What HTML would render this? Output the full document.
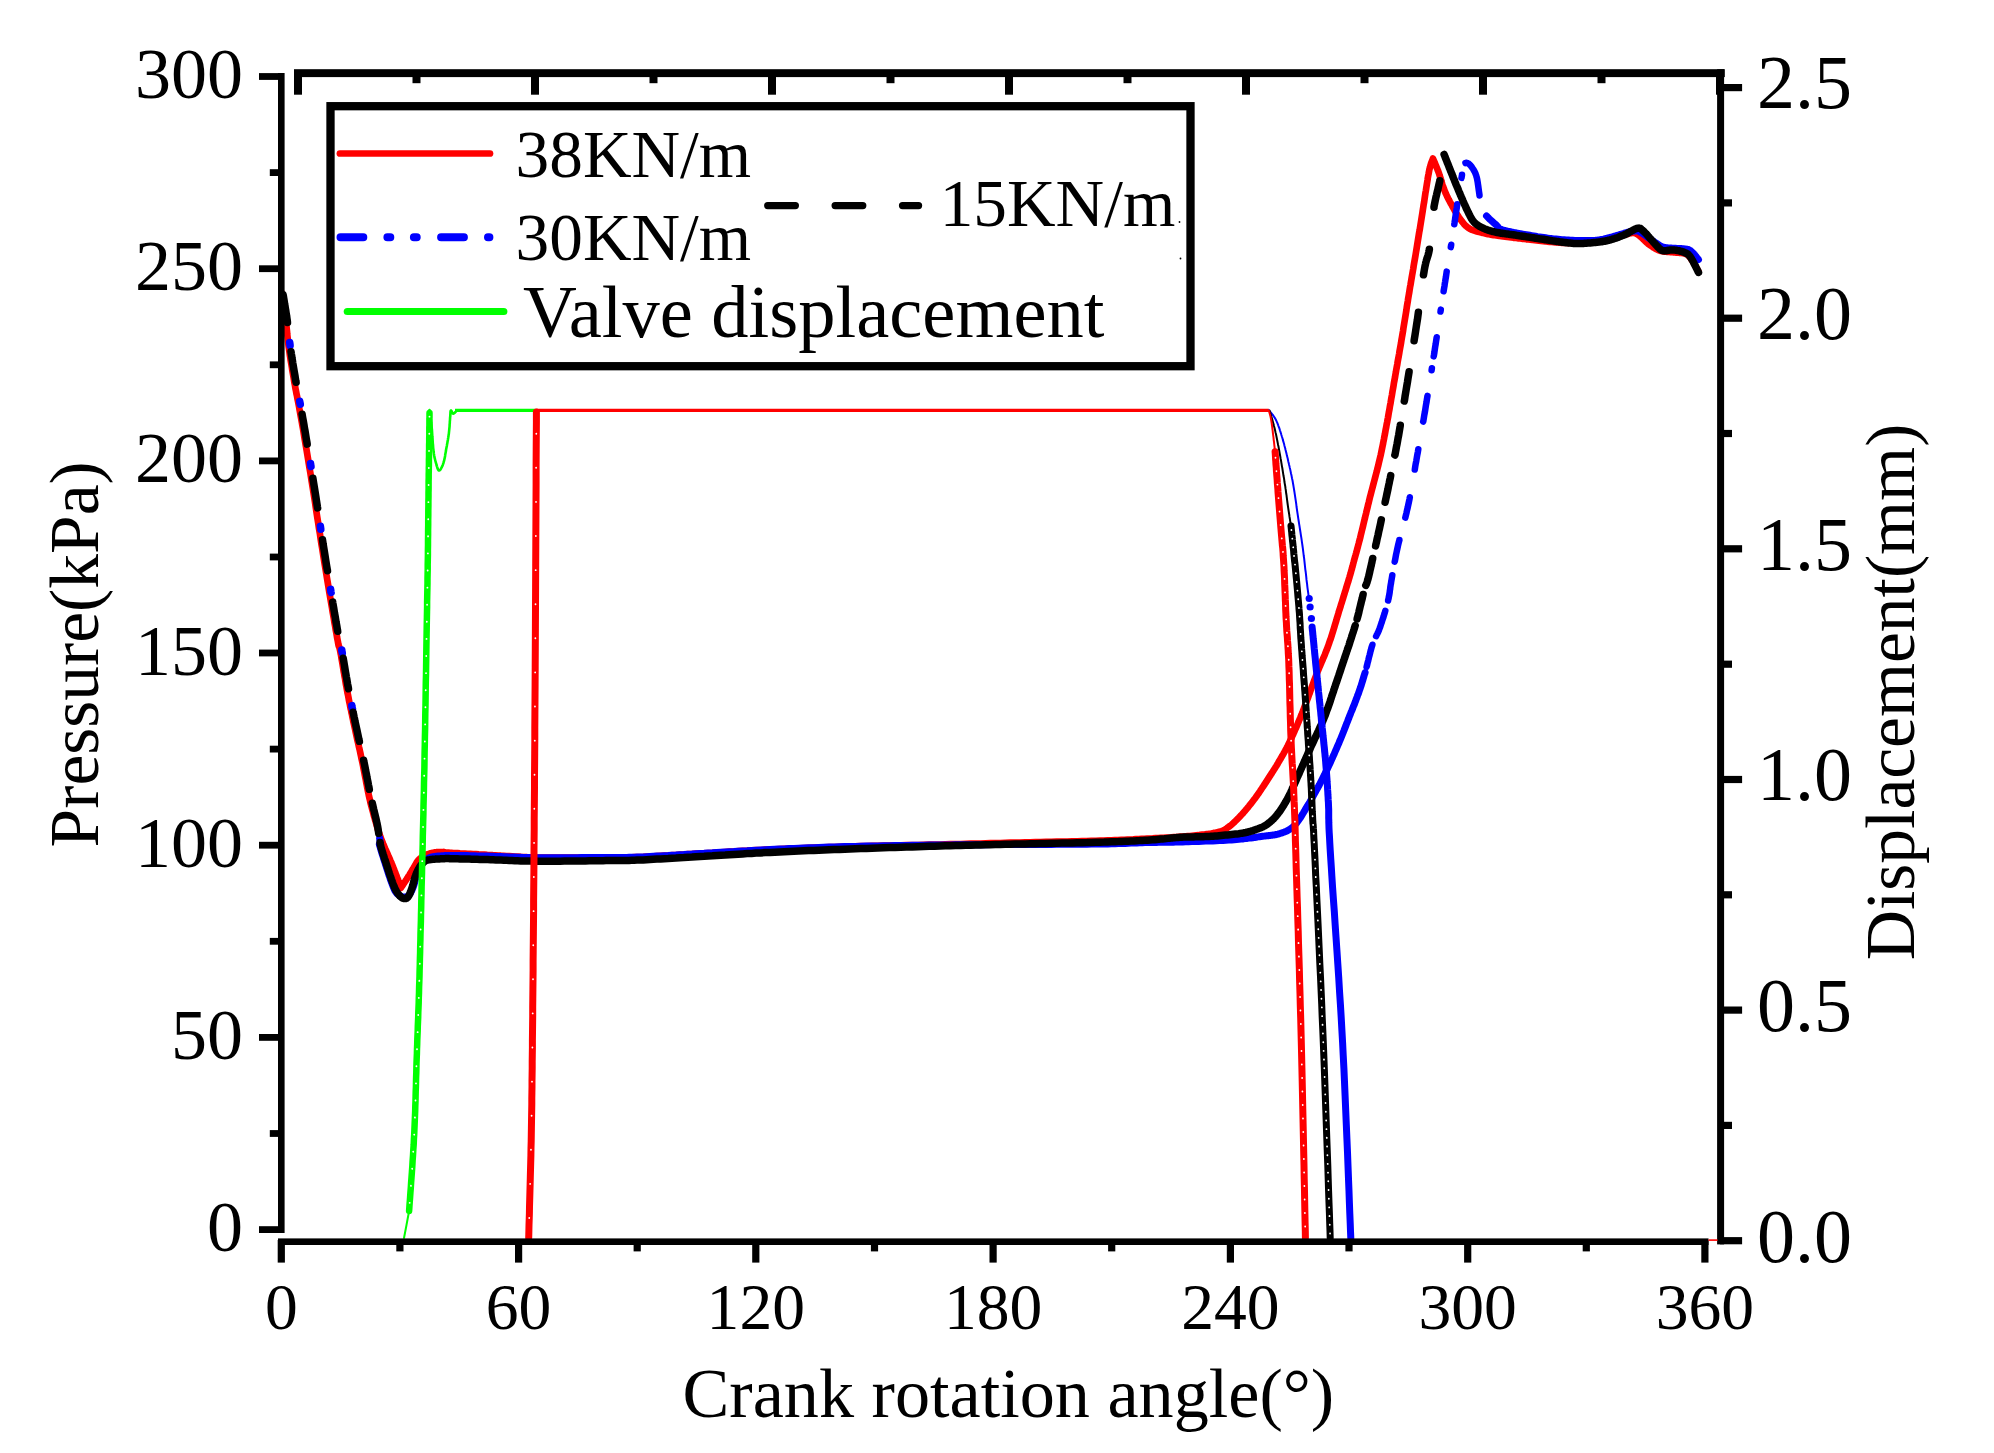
<!DOCTYPE html>
<html><head><meta charset="utf-8"><title>Pressure and valve displacement vs crank angle</title>
<style>html,body{margin:0;padding:0;background:#fff;overflow:hidden}svg{display:block}</style></head>
<body><svg width="1994" height="1453" viewBox="0 0 1994 1453">
<rect width="1994" height="1453" fill="#fff"/>
<g id="pressure">
<path d="M281.3,292.0 L281.4,292.9 L281.6,294.0 L281.8,295.2 L282.1,296.6 L282.3,298.1 L282.6,299.7 L282.9,301.4 L283.2,303.2 L283.5,305.0 L283.8,306.9 L284.1,308.8 L284.4,310.7 L284.7,312.5 L285.0,314.4 L285.3,316.2 L285.5,318.0 L285.7,319.7 L285.9,321.5 L286.1,323.2 L286.3,325.0 L286.5,326.7 L286.7,328.5 L286.9,330.3 L287.1,332.1 L287.2,333.9 L287.4,335.8 L287.6,337.6 L287.8,339.5 L288.0,341.5 L288.3,343.4 L288.5,345.4 L288.8,347.4 L289.1,349.5 L289.4,351.6 L289.7,353.7 L290.0,356.0 L290.4,358.2 L290.7,360.5 L291.1,362.8 L291.5,365.0 L291.9,367.4 L292.2,369.7 L292.6,371.9 L293.0,374.2 L293.4,376.5 L293.8,378.7 L294.1,380.9 L294.5,383.0 L294.9,385.0 L295.2,386.9 L295.5,388.8 L295.9,390.5 L296.2,392.2 L296.5,393.9 L296.9,395.5 L297.2,397.2 L297.5,399.0 L297.9,400.8 L298.3,402.7 L298.7,404.8 L299.1,407.0 L299.5,409.4 L300.0,412.0 L300.5,414.8 L301.0,417.8 L301.6,421.0 L302.2,424.3 L302.8,427.7 L303.4,431.3 L304.0,435.0 L304.6,438.8 L305.3,442.7 L306.0,446.7 L306.7,450.8 L307.4,455.0 L308.1,459.3 L308.8,463.6 L309.5,468.0 L310.3,472.5 L311.0,477.0 L311.7,481.6 L312.5,486.4 L313.3,491.4 L314.1,496.4 L314.9,501.6 L315.7,506.9 L316.5,512.2 L317.3,517.6 L318.2,523.0 L319.0,528.4 L319.9,533.8 L320.7,539.2 L321.5,544.5 L322.4,549.8 L323.2,554.9 L324.0,560.0 L324.8,565.1 L325.7,570.3 L326.6,575.7 L327.5,581.1 L328.4,586.6 L329.3,592.1 L330.2,597.5 L331.1,602.8 L332.0,608.0 L332.8,613.0 L333.7,617.8 L334.4,622.3 L335.2,626.5 L335.8,630.4 L336.5,633.9 L337.0,637.0 L337.5,639.6 L337.9,641.6 L338.2,643.3 L338.4,644.5 L338.6,645.4 L338.8,646.0 L338.9,646.4 L339.1,646.7 L339.2,646.9 L339.3,647.1 L339.4,647.4 L339.5,647.7 L339.6,648.3 L339.8,649.0 L340.0,650.1 L340.3,651.5 L340.6,653.2 L341.0,655.1 L341.3,657.1 L341.7,659.3 L342.1,661.6 L342.5,664.0 L342.9,666.4 L343.3,668.9 L343.7,671.5 L344.2,674.1 L344.6,676.6 L345.1,679.2 L345.5,681.7 L345.9,684.2 L346.4,686.6 L346.8,688.9 L347.2,691.1 L347.6,693.3 L348.1,695.5 L348.5,697.7 L348.9,699.9 L349.3,702.0 L349.8,704.1 L350.2,706.3 L350.6,708.4 L351.1,710.5 L351.5,712.7 L352.0,714.8 L352.4,717.0 L352.9,719.2 L353.3,721.4 L353.8,723.6 L354.3,725.9 L354.8,728.1 L355.3,730.4 L355.8,732.7 L356.3,735.0 L356.8,737.4 L357.3,739.7 L357.9,742.1 L358.4,744.4 L358.9,746.7 L359.5,749.1 L360.0,751.4 L360.5,753.8 L361.0,756.1 L361.5,758.5 L362.0,760.8 L362.5,763.1 L363.0,765.5 L363.4,767.9 L363.9,770.3 L364.4,772.7 L364.8,775.1 L365.3,777.5 L365.8,779.9 L366.2,782.3 L366.7,784.7 L367.1,787.0 L367.6,789.3 L368.0,791.5 L368.5,793.7 L368.9,795.8 L369.4,797.9 L369.9,799.9 L370.3,801.9 L370.8,803.9 L371.3,805.8 L371.8,807.8 L372.3,809.6 L372.8,811.5 L373.3,813.3 L373.7,815.0 L374.2,816.7 L374.7,818.4 L375.1,820.0 L375.6,821.5 L376.0,823.0 L376.4,824.4 L376.8,825.8 L377.2,827.1 L377.5,828.2 L377.8,829.2 L378.1,830.2 L378.4,831.1 L378.6,831.9 L378.9,832.7 L379.2,833.5 L379.4,834.2 L379.7,834.9 L380.0,835.7 L380.3,836.5 L380.6,837.3 L380.9,838.2 L381.3,839.2 L381.7,840.2 L382.1,841.3 L382.6,842.5 L383.1,843.8 L383.7,845.0 L384.2,846.4 L384.8,847.7 L385.4,849.1 L386.0,850.4 L386.6,851.8 L387.2,853.2 L387.8,854.5 L388.4,855.9 L389.0,857.2 L389.5,858.4 L390.0,859.6 L390.5,860.8 L391.0,861.9 L391.4,863.0 L391.9,864.1 L392.3,865.1 L392.7,866.1 L393.1,867.2 L393.5,868.1 L393.9,869.1 L394.3,870.1 L394.6,871.0 L395.0,871.9 L395.4,872.8 L395.7,873.7 L396.0,874.6 L396.4,875.4 L396.7,876.3 L397.0,877.2 L397.3,878.0 L397.7,878.9 L398.0,879.8 L398.3,880.6 L398.6,881.5 L398.9,882.3 L399.1,883.1 L399.4,883.9 L399.7,884.6 L399.9,885.3 L400.1,886.0 L400.3,886.6 L400.5,887.1 L400.7,887.6 L400.8,888.0 L401.1,887.6 L401.4,887.1 L401.8,886.5 L402.2,885.9 L402.7,885.2 L403.2,884.4 L403.7,883.6 L404.3,882.8 L404.8,882.0 L405.4,881.1 L405.9,880.2 L406.5,879.4 L407.0,878.6 L407.6,877.8 L408.0,877.0 L408.5,876.3 L408.9,875.6 L409.4,874.9 L409.8,874.2 L410.2,873.5 L410.7,872.8 L411.1,872.1 L411.5,871.4 L411.9,870.7 L412.3,870.1 L412.7,869.4 L413.0,868.8 L413.4,868.2 L413.8,867.6 L414.1,867.0 L414.4,866.5 L414.7,866.0 L415.0,865.5 L415.2,865.1 L415.5,864.7 L415.7,864.3 L415.9,864.0 L416.0,863.6 L416.2,863.3 L416.4,863.0 L416.5,862.7 L416.7,862.4 L416.9,862.2 L417.0,861.9 L417.2,861.6 L417.4,861.3 L417.6,861.1 L417.8,860.8 L418.0,860.5 L418.3,860.2 L418.5,860.0 L418.8,859.7 L419.0,859.5 L419.3,859.2 L419.5,859.0 L419.8,858.7 L420.1,858.5 L420.3,858.3 L420.6,858.0 L420.9,857.8 L421.2,857.6 L421.4,857.4 L421.7,857.2 L422.0,857.0 L422.3,856.8 L422.5,856.6 L422.8,856.5 L423.0,856.3 L423.3,856.1 L423.6,856.0 L423.8,855.8 L424.1,855.7 L424.3,855.6 L424.6,855.4 L424.9,855.3 L425.2,855.1 L425.5,855.0 L425.9,854.9 L426.2,854.7 L426.6,854.6 L427.0,854.5 L427.4,854.3 L427.9,854.2 L428.3,854.0 L428.8,853.9 L429.3,853.7 L429.8,853.6 L430.3,853.4 L430.8,853.3 L431.3,853.2 L431.9,853.0 L432.4,852.9 L432.9,852.8 L433.4,852.7 L433.9,852.6 L434.4,852.5 L434.9,852.4 L435.4,852.4 L435.8,852.3 L436.3,852.2 L436.8,852.2 L437.3,852.1 L437.8,852.1 L438.2,852.1 L438.7,852.0 L439.2,852.0 L439.7,852.0 L440.2,852.0 L440.6,852.0 L441.1,852.0 L441.6,852.0 L442.1,852.0 L442.5,852.0 L442.9,852.0 L443.1,852.0 L443.3,852.1 L443.5,852.1 L443.6,852.1 L443.8,852.2 L444.0,852.2 L444.3,852.3 L444.7,852.3 L445.2,852.4 L445.8,852.5 L446.5,852.5 L447.5,852.6 L448.6,852.7 L450.0,852.8 L451.6,852.9 L453.4,853.0 L455.4,853.1 L457.6,853.2 L459.9,853.4 L462.3,853.5 L464.9,853.6 L467.6,853.8 L470.3,853.9 L473.1,854.1 L475.9,854.2 L478.8,854.4 L481.6,854.5 L484.4,854.7 L487.2,854.9 L490.0,855.0 L492.7,855.2 L495.4,855.3 L498.2,855.5 L500.9,855.7 L503.6,855.8 L506.4,856.0 L509.2,856.2 L512.1,856.4 L515.0,856.6 L517.9,856.7 L520.9,856.9 L524.0,857.0 L527.1,857.2 L530.3,857.3 L533.6,857.4 L537.0,857.5 L540.5,857.6 L544.3,857.6 L548.2,857.7 L552.2,857.7 L556.3,857.7 L560.5,857.7 L564.7,857.7 L568.9,857.7 L573.2,857.7 L577.4,857.6 L581.5,857.6 L585.5,857.6 L589.4,857.6 L593.1,857.5 L596.7,857.5 L600.0,857.5 L603.1,857.5 L606.0,857.5 L608.6,857.5 L611.1,857.5 L613.5,857.5 L615.8,857.5 L618.0,857.5 L620.2,857.5 L622.4,857.5 L624.5,857.4 L626.8,857.4 L629.1,857.3 L631.6,857.3 L634.2,857.2 L637.0,857.1 L640.0,857.0 L643.2,856.9 L646.5,856.7 L649.9,856.5 L653.4,856.3 L656.9,856.1 L660.6,855.9 L664.3,855.7 L668.1,855.5 L672.0,855.2 L675.9,855.0 L679.8,854.7 L683.8,854.5 L687.8,854.2 L691.9,854.0 L695.9,853.7 L700.0,853.5 L704.1,853.3 L708.2,853.0 L712.4,852.8 L716.6,852.5 L720.8,852.3 L725.1,852.0 L729.4,851.7 L733.8,851.5 L738.1,851.2 L742.6,850.9 L747.1,850.7 L751.6,850.4 L756.1,850.2 L760.7,850.0 L765.3,849.7 L770.0,849.5 L774.7,849.3 L779.5,849.1 L784.2,848.9 L789.1,848.7 L793.9,848.5 L798.8,848.3 L803.8,848.1 L808.8,847.9 L813.8,847.7 L818.8,847.5 L823.9,847.3 L829.1,847.2 L834.2,847.0 L839.5,846.8 L844.7,846.7 L850.0,846.5 L855.4,846.3 L860.8,846.2 L866.4,846.1 L872.0,845.9 L877.7,845.8 L883.5,845.7 L889.2,845.6 L895.0,845.4 L900.8,845.3 L906.5,845.2 L912.3,845.1 L918.0,845.0 L923.6,844.9 L929.2,844.7 L934.6,844.6 L940.0,844.5 L945.3,844.4 L950.5,844.2 L955.6,844.1 L960.7,844.0 L965.7,843.9 L970.7,843.7 L975.7,843.6 L980.6,843.5 L985.5,843.4 L990.4,843.2 L995.3,843.1 L1000.2,843.0 L1005.1,842.9 L1010.1,842.7 L1015.0,842.6 L1020.0,842.5 L1025.1,842.4 L1030.2,842.3 L1035.4,842.2 L1040.7,842.0 L1046.0,841.9 L1051.3,841.8 L1056.6,841.7 L1061.9,841.6 L1067.1,841.5 L1072.2,841.4 L1077.2,841.3 L1082.1,841.2 L1086.9,841.1 L1091.4,840.9 L1095.8,840.8 L1100.0,840.7 L1104.0,840.6 L1107.8,840.4 L1111.4,840.3 L1114.8,840.2 L1118.2,840.1 L1121.4,839.9 L1124.5,839.8 L1127.5,839.6 L1130.4,839.5 L1133.3,839.4 L1136.1,839.2 L1138.9,839.1 L1141.7,838.9 L1144.4,838.8 L1147.2,838.6 L1150.0,838.5 L1152.8,838.4 L1155.6,838.2 L1158.3,838.1 L1161.0,837.9 L1163.6,837.8 L1166.3,837.6 L1168.8,837.5 L1171.4,837.4 L1173.9,837.2 L1176.3,837.1 L1178.7,836.9 L1181.1,836.7 L1183.4,836.6 L1185.6,836.4 L1187.8,836.2 L1190.0,836.0 L1192.1,835.8 L1194.2,835.6 L1196.3,835.4 L1198.3,835.2 L1200.3,834.9 L1202.2,834.7 L1204.1,834.5 L1206.0,834.2 L1207.7,834.0 L1209.5,833.7 L1211.1,833.5 L1212.7,833.2 L1214.2,832.9 L1215.6,832.7 L1217.0,832.4 L1218.2,832.1 L1219.3,831.8 L1220.4,831.5 L1221.3,831.3 L1222.1,831.0 L1222.8,830.7 L1223.4,830.4 L1224.0,830.1 L1224.5,829.8 L1225.0,829.5 L1225.5,829.2 L1226.0,828.9 L1226.4,828.5 L1226.9,828.2 L1227.4,827.8 L1227.9,827.4 L1228.5,827.0 L1229.1,826.6 L1229.7,826.1 L1230.3,825.7 L1230.9,825.2 L1231.5,824.7 L1232.1,824.2 L1232.6,823.7 L1233.2,823.2 L1233.8,822.6 L1234.4,822.1 L1234.9,821.5 L1235.5,821.0 L1236.1,820.4 L1236.6,819.9 L1237.2,819.3 L1237.8,818.7 L1238.4,818.1 L1239.0,817.5 L1239.5,816.9 L1240.1,816.3 L1240.7,815.7 L1241.2,815.1 L1241.8,814.5 L1242.4,813.9 L1243.0,813.2 L1243.5,812.6 L1244.1,811.9 L1244.7,811.2 L1245.3,810.6 L1245.9,809.8 L1246.5,809.1 L1247.1,808.4 L1247.7,807.7 L1248.3,806.9 L1249.0,806.1 L1249.6,805.3 L1250.2,804.5 L1250.9,803.7 L1251.5,802.9 L1252.2,802.0 L1252.8,801.2 L1253.5,800.3 L1254.1,799.4 L1254.8,798.6 L1255.5,797.7 L1256.1,796.8 L1256.8,795.9 L1257.4,795.0 L1258.0,794.1 L1258.7,793.2 L1259.3,792.2 L1260.0,791.3 L1260.6,790.3 L1261.3,789.4 L1261.9,788.4 L1262.5,787.4 L1263.2,786.5 L1263.8,785.5 L1264.5,784.5 L1265.1,783.5 L1265.8,782.5 L1266.4,781.5 L1267.1,780.5 L1267.7,779.5 L1268.3,778.5 L1269.0,777.5 L1269.6,776.5 L1270.3,775.5 L1270.9,774.5 L1271.6,773.5 L1272.2,772.5 L1272.9,771.4 L1273.6,770.4 L1274.2,769.4 L1274.9,768.3 L1275.5,767.3 L1276.2,766.2 L1276.8,765.2 L1277.5,764.1 L1278.1,763.0 L1278.7,761.9 L1279.4,760.8 L1280.0,759.7 L1280.7,758.6 L1281.3,757.5 L1282.0,756.3 L1282.6,755.2 L1283.3,754.1 L1283.9,752.9 L1284.6,751.7 L1285.2,750.6 L1285.8,749.4 L1286.5,748.2 L1287.1,746.9 L1287.8,745.7 L1288.4,744.4 L1289.0,743.1 L1289.7,741.8 L1290.3,740.4 L1291.0,739.0 L1291.7,737.6 L1292.3,736.1 L1293.0,734.7 L1293.6,733.2 L1294.3,731.8 L1294.9,730.3 L1295.5,728.9 L1296.2,727.5 L1296.8,726.0 L1297.4,724.7 L1297.9,723.3 L1298.5,722.0 L1299.0,720.7 L1299.5,719.5 L1300.0,718.4 L1300.5,717.2 L1300.9,716.1 L1301.4,715.0 L1301.8,714.0 L1302.2,712.9 L1302.7,711.8 L1303.1,710.7 L1303.5,709.5 L1304.0,708.3 L1304.4,707.1 L1304.9,705.8 L1305.5,704.4 L1306.0,703.0 L1306.6,701.5 L1307.2,699.9 L1307.8,698.3 L1308.4,696.6 L1309.0,694.8 L1309.7,693.1 L1310.3,691.2 L1311.0,689.4 L1311.6,687.5 L1312.3,685.7 L1313.0,683.8 L1313.7,681.9 L1314.4,680.0 L1315.1,678.2 L1315.8,676.3 L1316.5,674.5 L1317.2,672.7 L1317.9,670.9 L1318.7,669.1 L1319.4,667.3 L1320.2,665.6 L1320.9,663.8 L1321.7,662.0 L1322.5,660.2 L1323.2,658.4 L1324.0,656.6 L1324.8,654.7 L1325.5,652.8 L1326.3,650.9 L1327.0,649.0 L1327.8,647.0 L1328.5,645.0 L1329.2,642.9 L1329.9,640.8 L1330.7,638.7 L1331.4,636.4 L1332.1,634.2 L1332.8,631.9 L1333.5,629.7 L1334.2,627.4 L1334.9,625.1 L1335.6,622.8 L1336.3,620.5 L1336.9,618.2 L1337.6,616.0 L1338.3,613.7 L1338.9,611.5 L1339.6,609.4 L1340.3,607.3 L1340.9,605.1 L1341.6,602.9 L1342.3,600.8 L1343.0,598.6 L1343.6,596.4 L1344.3,594.3 L1344.9,592.1 L1345.6,590.1 L1346.2,588.0 L1346.8,586.0 L1347.4,584.1 L1348.0,582.3 L1348.5,580.5 L1349.0,578.8 L1349.5,577.2 L1349.9,575.7 L1350.3,574.4 L1350.7,573.1 L1351.0,571.9 L1351.3,570.8 L1351.6,569.8 L1351.9,568.8 L1352.1,567.8 L1352.4,566.9 L1352.6,566.0 L1352.9,565.1 L1353.1,564.1 L1353.3,563.2 L1353.6,562.2 L1353.9,561.1 L1354.2,560.0 L1354.5,558.9 L1354.8,557.8 L1355.1,556.7 L1355.4,555.7 L1355.7,554.6 L1356.0,553.6 L1356.3,552.5 L1356.6,551.4 L1356.9,550.3 L1357.2,549.1 L1357.6,547.8 L1357.9,546.5 L1358.3,545.0 L1358.7,543.5 L1359.1,541.8 L1359.6,540.0 L1360.1,538.1 L1360.6,536.0 L1361.1,533.8 L1361.7,531.5 L1362.3,529.0 L1362.9,526.6 L1363.5,524.0 L1364.1,521.4 L1364.8,518.7 L1365.4,516.0 L1366.1,513.3 L1366.7,510.6 L1367.4,507.9 L1368.0,505.2 L1368.7,502.6 L1369.3,500.0 L1369.9,497.4 L1370.6,494.8 L1371.3,492.2 L1372.0,489.5 L1372.7,486.9 L1373.4,484.2 L1374.1,481.5 L1374.8,478.9 L1375.5,476.2 L1376.2,473.5 L1376.9,470.9 L1377.5,468.3 L1378.2,465.7 L1378.8,463.1 L1379.4,460.5 L1380.0,458.0 L1380.6,455.5 L1381.1,453.1 L1381.6,450.7 L1382.1,448.3 L1382.6,445.9 L1383.1,443.5 L1383.5,441.2 L1384.0,438.9 L1384.4,436.5 L1384.9,434.2 L1385.3,431.9 L1385.7,429.5 L1386.2,427.2 L1386.6,424.8 L1387.1,422.4 L1387.5,420.0 L1388.0,417.6 L1388.4,415.1 L1388.8,412.7 L1389.3,410.2 L1389.7,407.7 L1390.1,405.3 L1390.6,402.8 L1391.0,400.3 L1391.4,397.8 L1391.9,395.3 L1392.3,392.8 L1392.7,390.3 L1393.2,387.7 L1393.6,385.2 L1394.0,382.6 L1394.5,380.0 L1395.0,377.4 L1395.4,374.8 L1395.9,372.2 L1396.3,369.6 L1396.8,366.9 L1397.3,364.3 L1397.7,361.6 L1398.2,358.9 L1398.7,356.3 L1399.2,353.5 L1399.6,350.8 L1400.1,348.1 L1400.6,345.4 L1401.1,342.6 L1401.5,339.8 L1402.0,337.0 L1402.5,334.2 L1403.0,331.3 L1403.4,328.3 L1403.9,325.3 L1404.4,322.3 L1404.9,319.3 L1405.4,316.2 L1405.9,313.2 L1406.4,310.1 L1406.8,307.1 L1407.3,304.1 L1407.8,301.2 L1408.2,298.3 L1408.7,295.5 L1409.2,292.7 L1409.6,290.0 L1410.0,287.4 L1410.5,284.9 L1410.9,282.4 L1411.3,280.0 L1411.7,277.6 L1412.1,275.3 L1412.5,273.0 L1412.9,270.7 L1413.3,268.5 L1413.6,266.2 L1414.0,263.9 L1414.4,261.7 L1414.8,259.4 L1415.2,257.1 L1415.6,254.7 L1416.0,252.3 L1416.4,249.9 L1416.8,247.4 L1417.2,244.9 L1417.6,242.4 L1418.0,239.9 L1418.4,237.4 L1418.8,234.9 L1419.2,232.4 L1419.7,229.9 L1420.1,227.3 L1420.5,224.8 L1420.9,222.3 L1421.3,219.8 L1421.7,217.2 L1422.1,214.7 L1422.5,212.2 L1422.9,209.6 L1423.3,207.0 L1423.7,204.3 L1424.2,201.6 L1424.6,198.8 L1425.0,196.0 L1425.4,193.2 L1425.9,190.5 L1426.3,187.8 L1426.7,185.2 L1427.1,182.7 L1427.5,180.3 L1427.8,178.0 L1428.2,175.8 L1428.6,173.9 L1428.9,172.1 L1429.2,170.5 L1429.5,169.0 L1429.9,167.7 L1430.2,166.5 L1430.5,165.4 L1430.8,164.5 L1431.0,163.6 L1431.3,162.8 L1431.6,162.1 L1431.8,161.4 L1432.0,160.9 L1432.2,160.3 L1432.4,159.8 L1432.6,159.4 L1432.8,158.9 L1432.9,158.5 L1433.1,159.0 L1433.3,159.5 L1433.6,160.1 L1433.9,160.8 L1434.2,161.6 L1434.6,162.4 L1434.9,163.2 L1435.3,164.1 L1435.7,165.0 L1436.1,166.0 L1436.5,167.0 L1436.9,168.0 L1437.3,169.0 L1437.7,170.0 L1438.1,171.1 L1438.5,172.1 L1438.9,173.2 L1439.3,174.3 L1439.6,175.4 L1440.0,176.6 L1440.4,177.8 L1440.8,179.1 L1441.2,180.3 L1441.5,181.6 L1441.9,182.9 L1442.3,184.2 L1442.7,185.4 L1443.2,186.7 L1443.6,187.9 L1444.0,189.1 L1444.5,190.3 L1444.9,191.4 L1445.4,192.5 L1445.8,193.6 L1446.3,194.6 L1446.8,195.7 L1447.3,196.8 L1447.8,197.8 L1448.3,198.8 L1448.8,199.8 L1449.4,200.8 L1449.9,201.8 L1450.4,202.7 L1450.9,203.7 L1451.5,204.6 L1452.0,205.6 L1452.5,206.5 L1453.0,207.4 L1453.5,208.3 L1454.0,209.2 L1454.5,210.1 L1455.0,210.9 L1455.5,211.8 L1456.0,212.6 L1456.5,213.5 L1457.0,214.3 L1457.5,215.1 L1458.0,215.9 L1458.5,216.7 L1459.0,217.4 L1459.5,218.1 L1460.0,218.8 L1460.5,219.5 L1461.0,220.2 L1461.5,220.8 L1462.0,221.5 L1462.5,222.1 L1462.9,222.7 L1463.4,223.2 L1463.9,223.8 L1464.3,224.3 L1464.8,224.8 L1465.3,225.3 L1465.8,225.8 L1466.3,226.2 L1466.8,226.7 L1467.3,227.1 L1467.8,227.5 L1468.4,227.9 L1469.0,228.3 L1469.6,228.7 L1470.2,229.0 L1470.8,229.3 L1471.5,229.6 L1472.1,229.9 L1472.8,230.1 L1473.4,230.4 L1474.1,230.6 L1474.8,230.8 L1475.5,231.0 L1476.2,231.2 L1477.0,231.5 L1477.8,231.7 L1478.5,231.9 L1479.4,232.1 L1480.2,232.3 L1481.0,232.5 L1481.9,232.7 L1482.7,232.9 L1483.5,233.1 L1484.3,233.3 L1485.2,233.5 L1486.0,233.7 L1486.9,233.9 L1487.9,234.1 L1488.9,234.3 L1489.9,234.5 L1491.0,234.7 L1492.2,234.9 L1493.5,235.1 L1494.8,235.3 L1496.3,235.5 L1497.9,235.7 L1499.5,236.0 L1501.3,236.2 L1503.2,236.5 L1505.1,236.7 L1507.2,237.0 L1509.2,237.2 L1511.4,237.5 L1513.5,237.8 L1515.7,238.0 L1517.8,238.3 L1520.0,238.5 L1522.2,238.8 L1524.3,239.0 L1526.4,239.3 L1528.4,239.5 L1530.4,239.7 L1532.5,240.0 L1534.6,240.2 L1536.8,240.4 L1539.0,240.7 L1541.1,240.9 L1543.3,241.1 L1545.5,241.3 L1547.6,241.6 L1549.6,241.8 L1551.7,242.0 L1553.6,242.1 L1555.5,242.3 L1557.3,242.5 L1558.9,242.6 L1560.5,242.7 L1561.9,242.8 L1563.2,242.9 L1564.4,242.9 L1565.4,243.0 L1566.4,243.0 L1567.3,243.0 L1568.2,243.1 L1569.0,243.0 L1569.8,243.0 L1570.6,243.0 L1571.4,243.0 L1572.3,242.9 L1573.2,242.9 L1574.2,242.8 L1575.3,242.8 L1576.5,242.7 L1577.8,242.6 L1579.1,242.5 L1580.5,242.4 L1582.0,242.3 L1583.4,242.2 L1584.9,242.1 L1586.5,242.0 L1588.0,241.8 L1589.6,241.7 L1591.2,241.5 L1592.8,241.4 L1594.4,241.2 L1596.0,241.0 L1597.5,240.8 L1599.1,240.5 L1600.6,240.3 L1602.1,240.0 L1603.7,239.7 L1605.3,239.4 L1606.9,239.0 L1608.6,238.6 L1610.2,238.2 L1611.8,237.8 L1613.5,237.4 L1615.0,237.0 L1616.6,236.6 L1618.1,236.2 L1619.6,235.9 L1621.0,235.5 L1622.3,235.2 L1623.5,234.9 L1624.7,234.7 L1625.8,234.5 L1626.7,234.3 L1627.6,234.0 L1628.4,233.8 L1629.1,233.6 L1629.8,233.4 L1630.4,233.2 L1631.1,233.1 L1631.6,233.0 L1632.2,232.9 L1632.8,232.8 L1633.4,232.9 L1634.0,232.9 L1634.6,233.0 L1635.3,233.2 L1636.0,233.5 L1636.8,233.9 L1637.5,234.3 L1638.3,234.8 L1639.1,235.5 L1639.9,236.1 L1640.8,236.9 L1641.6,237.6 L1642.4,238.4 L1643.2,239.2 L1644.1,240.0 L1644.9,240.8 L1645.7,241.6 L1646.5,242.4 L1647.3,243.1 L1648.0,243.7 L1648.8,244.3 L1649.5,244.8 L1650.3,245.3 L1651.0,245.8 L1651.7,246.3 L1652.4,246.8 L1653.0,247.2 L1653.7,247.7 L1654.4,248.1 L1655.1,248.5 L1655.8,248.8 L1656.4,249.2 L1657.1,249.5 L1657.8,249.9 L1658.5,250.2 L1659.3,250.4 L1660.0,250.7 L1660.8,250.9 L1661.5,251.1 L1662.3,251.3 L1663.1,251.4 L1663.9,251.6 L1664.7,251.7 L1665.5,251.7 L1666.3,251.8 L1667.1,251.9 L1667.9,251.9 L1668.7,252.0 L1669.6,252.0 L1670.4,252.1 L1671.2,252.1 L1672.0,252.2 L1672.8,252.3 L1673.6,252.4 L1674.5,252.5 L1675.3,252.5 L1676.2,252.6 L1677.0,252.6 L1677.9,252.7 L1678.8,252.7 L1679.7,252.8 L1680.5,252.9 L1681.3,252.9 L1682.1,253.0 L1682.9,253.2 L1683.7,253.3 L1684.4,253.5 L1685.1,253.7 L1685.7,253.9 L1686.3,254.2 L1686.8,254.4 L1687.3,254.7 L1687.8,255.1 L1688.2,255.4 L1688.6,255.8 L1688.9,256.2 L1689.3,256.6 L1689.6,257.0 L1690.0,257.4 L1690.3,257.9 L1690.7,258.3 L1691.0,258.8 L1691.3,259.3 L1691.7,259.9 L1692.1,260.4 L1692.5,261.0 L1692.9,261.7 L1693.4,262.4 L1693.8,263.1 L1694.3,263.9 L1694.8,264.7 L1695.2,265.6 L1695.7,266.4 L1696.1,267.2 L1696.6,268.0 L1697.0,268.8 L1697.3,269.5 L1697.7,270.1 L1698.0,270.7 L1698.3,271.2 L1698.5,271.6" fill="none" stroke="#ff0000" stroke-width="6.7" stroke-linecap="round" stroke-linejoin="round"/>
<path d="M289.7,342.5 L289.9,343.6 L290.1,345.5 L290.1,345.5" fill="none" stroke="#0000ff" stroke-width="7.5" stroke-linecap="round" stroke-linejoin="round"/>
<path d="M299.7,401.3 L300.0,402.7 L300.3,404.3" fill="none" stroke="#0000ff" stroke-width="7.5" stroke-linecap="round" stroke-linejoin="round"/>
<path d="M310.5,463.5 L310.5,463.6 L311.0,466.5" fill="none" stroke="#0000ff" stroke-width="7.5" stroke-linecap="round" stroke-linejoin="round"/>
<path d="M320.4,526.2 L320.7,528.4 L320.8,529.2" fill="none" stroke="#0000ff" stroke-width="7.5" stroke-linecap="round" stroke-linejoin="round"/>
<path d="M330.6,589.4 L331.0,592.1 L331.1,592.4" fill="none" stroke="#0000ff" stroke-width="7.5" stroke-linecap="round" stroke-linejoin="round"/>
<path d="M341.7,650.0 L341.7,650.1 L342.0,651.5 L342.3,653.0" fill="none" stroke="#0000ff" stroke-width="7.5" stroke-linecap="round" stroke-linejoin="round"/>
<path d="M351.8,705.6 L351.9,706.3 L352.3,708.4 L352.4,708.6" fill="none" stroke="#0000ff" stroke-width="7.5" stroke-linecap="round" stroke-linejoin="round"/>
<path d="M379.6,838.0 L379.6,838.4 L379.8,839.6 L380.0,840.7 L380.1,841.8 L380.2,842.7 L380.3,843.6 L380.4,844.3 L380.5,845.0 L380.5,845.5 L380.5,845.8 L380.5,845.9 L380.4,845.9 L380.2,845.7 L380.1,845.5 L379.9,845.2 L379.8,844.9 L379.6,844.6 L379.5,844.3 L379.4,844.1 L379.3,844.0 L379.3,844.0 L379.3,844.1 L379.4,844.5 L379.5,845.0 L379.7,845.7 L380.0,846.6 L380.3,847.7 L380.6,848.8 L381.0,850.1 L381.4,851.5 L381.8,852.9 L382.3,854.4 L382.8,855.9 L383.3,857.4 L383.7,859.0 L384.2,860.5 L384.7,861.9 L385.2,863.4 L385.6,864.7 L386.0,866.0 L386.4,867.2 L386.8,868.5 L387.2,869.7 L387.6,870.9 L388.0,872.1 L388.4,873.4 L388.8,874.6 L389.2,875.8 L389.6,876.9 L390.0,878.0 L390.3,879.1 L390.7,880.2 L391.1,881.2 L391.4,882.2 L391.8,883.1 L392.1,884.0 L392.4,884.8 L392.7,885.6 L393.0,886.3 L393.3,887.0 L393.5,887.6 L393.8,888.3 L394.0,888.8 L394.3,889.4 L394.5,889.9 L394.8,890.4 L395.0,890.9 L395.3,891.3 L395.6,891.8 L395.9,892.2 L396.2,892.6 L396.5,893.0 L396.8,893.4 L397.2,893.8 L397.6,894.1 L398.0,894.5 L398.4,894.8 L398.8,895.1 L399.2,895.4 L399.6,895.7 L400.0,895.9 L400.4,896.2 L400.9,896.4 L401.3,896.5 L401.7,896.7 L402.1,896.8 L402.5,896.9 L402.9,897.0 L403.3,897.1 L403.7,897.1 L404.1,897.1 L404.5,897.1 L404.9,897.0 L405.3,897.0 L405.7,896.9 L406.1,896.8 L406.5,896.6 L406.9,896.5 L407.2,896.3 L407.6,896.1 L408.0,895.9 L408.3,895.6 L408.7,895.3 L409.0,895.0 L409.3,894.7 L409.6,894.3 L410.0,893.8 L410.3,893.4 L410.6,892.9 L410.8,892.4 L411.1,891.9 L411.4,891.3 L411.7,890.8 L411.9,890.2 L412.2,889.6 L412.4,889.0 L412.7,888.4 L412.9,887.8 L413.2,887.2 L413.4,886.6 L413.6,886.0 L413.8,885.4 L414.0,884.8 L414.2,884.1 L414.4,883.5 L414.6,882.8 L414.8,882.1 L414.9,881.4 L415.1,880.8 L415.3,880.1 L415.4,879.4 L415.6,878.8 L415.8,878.1 L415.9,877.5 L416.1,876.9 L416.3,876.3 L416.5,875.7 L416.7,875.1 L416.9,874.6 L417.1,874.0 L417.3,873.5 L417.5,872.9 L417.7,872.4 L417.9,871.8 L418.1,871.3 L418.3,870.8 L418.5,870.3 L418.7,869.8 L418.9,869.4 L419.1,868.9 L419.3,868.4 L419.5,868.0 L419.7,867.6 L419.9,867.2 L420.1,866.8 L420.3,866.4 L420.6,866.0 L420.8,865.6 L421.0,865.3 L421.2,865.0 L421.4,864.6 L421.6,864.3 L421.9,864.0 L422.1,863.7 L422.3,863.4 L422.5,863.1 L422.8,862.8 L423.0,862.5 L423.2,862.2 L423.5,862.0 L423.7,861.7 L423.9,861.5 L424.1,861.2 L424.3,861.0 L424.5,860.8 L424.8,860.6 L425.0,860.4 L425.2,860.2 L425.5,860.0 L425.7,859.8 L426.0,859.6 L426.3,859.4 L426.7,859.2 L427.0,859.0 L427.3,858.8 L427.7,858.6 L428.0,858.4 L428.4,858.3 L428.7,858.1 L429.1,857.9 L429.4,857.8 L429.8,857.6 L430.2,857.4 L430.7,857.3 L431.2,857.1 L431.7,857.0 L432.3,856.9 L432.9,856.7 L433.6,856.6 L434.4,856.5 L435.2,856.4 L436.0,856.3 L436.8,856.2 L437.7,856.1 L438.6,856.0 L439.5,855.9 L440.5,855.9 L441.5,855.8 L442.6,855.7 L443.7,855.7 L444.9,855.6 L446.2,855.6 L447.6,855.6 L449.1,855.5 L450.7,855.5 L452.4,855.5 L454.2,855.5 L456.1,855.5 L458.2,855.5 L460.3,855.5 L462.6,855.6 L464.9,855.6 L467.2,855.6 L469.7,855.7 L472.2,855.7 L474.7,855.8 L477.3,855.9 L479.9,855.9 L482.6,856.0 L485.2,856.1 L487.9,856.1 L490.5,856.2 L493.1,856.3 L495.8,856.4 L498.4,856.5 L501.1,856.6 L503.7,856.7 L506.4,856.8 L509.2,856.9 L512.0,857.0 L514.8,857.1 L517.7,857.2 L520.6,857.3 L523.7,857.4 L526.8,857.5 L530.0,857.6 L533.2,857.7 L536.6,857.7 L540.1,857.7 L543.9,857.8 L547.8,857.8 L551.8,857.8 L555.9,857.8 L560.1,857.8 L564.4,857.7 L568.7,857.7 L573.0,857.7 L577.2,857.7 L581.3,857.6 L585.4,857.6 L589.3,857.6 L593.1,857.6 L596.6,857.5 L600.0,857.5 L603.1,857.5 L606.0,857.5 L608.7,857.5 L611.2,857.5 L613.6,857.5 L615.8,857.5 L618.0,857.5 L620.2,857.5 L622.4,857.4 L624.6,857.4 L626.8,857.4 L629.1,857.3 L631.6,857.3 L634.2,857.2 L637.0,857.1 L640.0,857.0 L643.2,856.9 L646.5,856.7 L649.9,856.5 L653.4,856.3 L656.9,856.1 L660.6,855.9 L664.3,855.7 L668.1,855.5 L672.0,855.2 L675.9,855.0 L679.8,854.7 L683.8,854.5 L687.8,854.2 L691.9,854.0 L695.9,853.7 L700.0,853.5 L704.1,853.3 L708.2,853.0 L712.4,852.8 L716.6,852.5 L720.8,852.3 L725.1,852.0 L729.4,851.7 L733.8,851.5 L738.1,851.2 L742.6,850.9 L747.1,850.7 L751.6,850.4 L756.1,850.2 L760.7,850.0 L765.3,849.7 L770.0,849.5 L774.7,849.3 L779.5,849.1 L784.2,848.9 L789.1,848.6 L793.9,848.4 L798.8,848.2 L803.8,848.0 L808.8,847.8 L813.8,847.7 L818.8,847.5 L823.9,847.3 L829.1,847.1 L834.2,847.0 L839.5,846.8 L844.7,846.6 L850.0,846.5 L855.4,846.4 L860.8,846.2 L866.4,846.1 L872.0,846.0 L877.7,845.9 L883.5,845.8 L889.2,845.7 L895.0,845.6 L900.8,845.5 L906.5,845.4 L912.3,845.3 L918.0,845.3 L923.6,845.2 L929.2,845.1 L934.6,845.1 L940.0,845.0 L945.3,844.9 L950.5,844.9 L955.6,844.8 L960.7,844.8 L965.7,844.8 L970.7,844.7 L975.7,844.7 L980.6,844.7 L985.5,844.7 L990.4,844.6 L995.3,844.6 L1000.2,844.6 L1005.1,844.6 L1010.1,844.6 L1015.0,844.5 L1020.0,844.5 L1025.1,844.5 L1030.2,844.4 L1035.4,844.4 L1040.7,844.4 L1046.0,844.4 L1051.3,844.4 L1056.6,844.3 L1061.9,844.3 L1067.1,844.3 L1072.2,844.3 L1077.2,844.2 L1082.1,844.2 L1086.9,844.2 L1091.4,844.1 L1095.8,844.1 L1100.0,844.0 L1104.0,843.9 L1107.8,843.9 L1111.5,843.8 L1115.1,843.7 L1118.5,843.6 L1121.8,843.5 L1125.0,843.4 L1128.1,843.2 L1131.1,843.1 L1134.0,843.0 L1136.9,842.9 L1139.6,842.8 L1142.3,842.7 L1144.9,842.6 L1147.5,842.6 L1150.0,842.5 L1152.4,842.4 L1154.6,842.4 L1156.6,842.4 L1158.4,842.3 L1160.1,842.3 L1161.8,842.3 L1163.3,842.3 L1164.9,842.3 L1166.5,842.3 L1168.0,842.3 L1169.7,842.2 L1171.5,842.2 L1173.3,842.2 L1175.4,842.1 L1177.6,842.1 L1180.0,842.0 L1182.7,841.9 L1185.6,841.8 L1188.6,841.7 L1191.9,841.6 L1195.2,841.5 L1198.7,841.4 L1202.2,841.3 L1205.7,841.1 L1209.3,841.0 L1212.8,840.9 L1216.3,840.7 L1219.6,840.6 L1222.9,840.4 L1226.0,840.2 L1228.9,840.1 L1231.6,839.9 L1234.1,839.7 L1236.6,839.5 L1238.9,839.3 L1241.1,839.1 L1243.3,838.9 L1245.3,838.6 L1247.3,838.4 L1249.2,838.1 L1251.1,837.9 L1252.9,837.7 L1254.6,837.4 L1256.3,837.2 L1257.9,836.9 L1259.5,836.7 L1261.1,836.5 L1262.6,836.3 L1264.1,836.1 L1265.4,835.9 L1266.8,835.8 L1268.0,835.7 L1269.2,835.5 L1270.3,835.4 L1271.3,835.3 L1272.4,835.2 L1273.3,835.0 L1274.3,834.9 L1275.3,834.7 L1276.2,834.5 L1277.1,834.3 L1278.1,834.1 L1279.0,833.8 L1280.0,833.5 L1281.0,833.2 L1281.9,832.9 L1282.9,832.5 L1283.8,832.2 L1284.7,831.9 L1285.5,831.5 L1286.4,831.2 L1287.3,830.8 L1288.1,830.3 L1289.0,829.8 L1289.8,829.3 L1290.7,828.7 L1291.5,828.1 L1292.4,827.4 L1293.2,826.6 L1294.1,825.8 L1295.0,824.9 L1295.8,823.9 L1296.7,822.9 L1297.5,821.8 L1298.3,820.6 L1299.2,819.4 L1300.0,818.2 L1300.9,816.9 L1301.7,815.6 L1302.5,814.2 L1303.4,812.8 L1304.3,811.3 L1305.1,809.8 L1306.0,808.3 L1307.0,806.8 L1307.9,805.2 L1308.9,803.6 L1309.9,801.9 L1310.9,800.1 L1311.9,798.3 L1312.9,796.4 L1314.0,794.5 L1315.1,792.6 L1316.1,790.7 L1317.2,788.7 L1318.3,786.7 L1319.4,784.7 L1320.4,782.7 L1321.4,780.7 L1322.4,778.8 L1323.4,776.8 L1324.4,774.9 L1325.3,773.0 L1326.3,771.1 L1327.2,769.2 L1328.1,767.3 L1329.0,765.3 L1329.9,763.4 L1330.8,761.5 L1331.6,759.6 L1332.5,757.7 L1333.3,755.8 L1334.2,753.9 L1335.0,752.0 L1335.8,750.1 L1336.6,748.3 L1337.4,746.4 L1338.2,744.6 L1339.0,742.8 L1339.7,741.0 L1340.5,739.2 L1341.2,737.5 L1341.9,735.7 L1342.6,734.0 L1343.3,732.2 L1344.0,730.5 L1344.6,728.8 L1345.3,727.1 L1346.0,725.4 L1346.6,723.7 L1347.3,722.0 L1347.9,720.4 L1348.6,718.7 L1349.2,717.1 L1349.8,715.5 L1350.5,713.9 L1351.1,712.2 L1351.8,710.6 L1352.4,709.1 L1353.0,707.5 L1353.6,705.9 L1354.3,704.4 L1354.9,702.8 L1355.5,701.3 L1356.0,699.8 L1356.6,698.2 L1357.2,696.7 L1357.7,695.2 L1358.3,693.8 L1358.8,692.3 L1359.3,690.9 L1359.8,689.4 L1360.3,688.1 L1360.7,686.7 L1361.2,685.4 L1361.6,684.0 L1362.0,682.7 L1362.4,681.4 L1362.8,680.1 L1363.2,678.7 L1363.6,677.4 L1364.0,676.0 L1364.4,674.6 L1364.9,673.2 L1365.1,672.5" fill="none" stroke="#0000ff" stroke-width="7" stroke-linecap="round" stroke-linejoin="round"/>
<path d="M1366.6,666.9 L1367.0,665.5 L1367.4,663.8 L1367.8,662.1 L1368.3,660.3 L1368.7,658.6 L1369.1,656.8 L1369.6,655.1 L1370.0,653.4 L1370.4,651.7 L1370.9,650.0 L1371.3,648.4 L1371.7,646.9 L1372.2,645.5 L1372.4,644.7" fill="none" stroke="#0000ff" stroke-width="6.5" stroke-linecap="round" stroke-linejoin="round"/>
<path d="M1376.1,636.2 L1376.1,636.2 L1376.5,635.4 L1376.9,634.5 L1377.4,633.6 L1377.8,632.7 L1378.3,631.7 L1378.8,630.6 L1379.2,629.5 L1379.7,628.2 L1380.2,626.8 L1380.7,625.3 L1381.2,623.8 L1381.8,622.1 L1382.3,620.4 L1382.9,618.7 L1383.5,616.9 L1384.0,615.1 L1384.6,613.3 L1385.1,611.5 L1385.3,610.9" fill="none" stroke="#0000ff" stroke-width="6.5" stroke-linecap="round" stroke-linejoin="round"/>
<path d="M1388.1,600.5 L1388.2,599.8 L1388.6,598.4 L1388.8,597.1 L1389.1,595.8 L1389.3,594.6 L1389.5,593.4 L1389.7,592.2 L1389.8,591.0 L1390.0,589.8 L1390.2,588.6 L1390.3,587.3 L1390.5,586.0 L1390.7,584.6 L1391.0,583.2 L1391.2,581.6 L1391.5,580.0 L1391.8,578.3 L1392.1,576.5 L1392.3,575.2" fill="none" stroke="#0000ff" stroke-width="6.5" stroke-linecap="round" stroke-linejoin="round"/>
<path d="M1394.7,561.6 L1394.9,560.9 L1395.3,558.8 L1395.7,556.6 L1396.1,554.4 L1396.6,552.1 L1397.1,549.8 L1397.6,547.5 L1398.1,545.1 L1398.7,542.7 L1399.4,540.2 L1399.4,539.9" fill="none" stroke="#0000ff" stroke-width="6.5" stroke-linecap="round" stroke-linejoin="round"/>
<path d="M1405.3,517.7 L1405.7,516.0 L1406.4,513.2 L1407.0,510.4 L1407.7,507.6 L1408.3,504.8 L1408.9,502.0 L1409.5,499.1 L1409.8,497.3" fill="none" stroke="#0000ff" stroke-width="6.5" stroke-linecap="round" stroke-linejoin="round"/>
<path d="M1414.8,469.6 L1415.2,466.8 L1415.7,463.8 L1416.3,460.8 L1416.8,457.8 L1417.3,454.8 L1417.9,451.8 L1418.3,449.2" fill="none" stroke="#0000ff" stroke-width="6.5" stroke-linecap="round" stroke-linejoin="round"/>
<path d="M1423.2,421.5 L1423.3,421.3 L1423.8,418.2 L1424.3,415.1 L1424.9,411.9 L1425.4,408.7 L1425.9,405.5 L1426.5,402.2 L1427.0,398.8 L1427.5,395.9" fill="none" stroke="#0000ff" stroke-width="6.5" stroke-linecap="round" stroke-linejoin="round"/>
<path d="M1431.6,370.3 L1431.9,368.3" fill="none" stroke="#0000ff" stroke-width="6.5" stroke-linecap="round" stroke-linejoin="round"/>
<path d="M1433.7,356.4 L1433.9,355.4 L1434.4,352.4 L1434.8,349.5 L1435.2,346.7 L1435.7,343.9 L1436.1,341.1 L1436.5,338.4 L1436.7,337.2" fill="none" stroke="#0000ff" stroke-width="6.5" stroke-linecap="round" stroke-linejoin="round"/>
<path d="M1440.5,311.6 L1440.7,310.2 L1440.8,309.6" fill="none" stroke="#0000ff" stroke-width="6.5" stroke-linecap="round" stroke-linejoin="round"/>
<path d="M1443.6,291.3 L1443.7,290.6 L1444.1,288.3 L1444.5,286.0 L1444.8,283.7 L1445.2,281.5 L1445.5,279.3 L1445.9,277.1 L1446.2,275.0 L1446.5,272.9 L1446.7,271.6" fill="none" stroke="#0000ff" stroke-width="6.5" stroke-linecap="round" stroke-linejoin="round"/>
<path d="M1450.8,247.1 L1451.0,245.9 L1451.2,244.7" fill="none" stroke="#0000ff" stroke-width="6.5" stroke-linecap="round" stroke-linejoin="round"/>
<path d="M1454.3,224.3 L1454.5,223.0 L1454.7,221.4 L1455.0,219.8 L1455.2,218.1 L1455.5,216.4 L1455.7,214.7 L1456.0,212.9 L1456.2,211.2 L1456.5,209.4 L1456.8,207.7 L1457.0,206.0 L1457.3,204.3 L1457.3,204.2" fill="none" stroke="#0000ff" stroke-width="6.5" stroke-linecap="round" stroke-linejoin="round"/>
<path d="M1461.5,177.9 L1461.6,177.3 L1461.8,176.1 L1462.0,175.0 L1462.0,174.7" fill="none" stroke="#0000ff" stroke-width="6.5" stroke-linecap="round" stroke-linejoin="round"/>
<path d="M1465.5,163.0 L1465.7,162.9 L1465.9,162.8 L1466.2,162.8 L1466.4,162.8 L1466.7,162.8 L1466.9,162.9 L1467.2,163.0 L1467.5,163.1 L1467.7,163.2 L1468.0,163.3 L1468.3,163.5 L1468.6,163.6 L1468.9,163.9 L1469.2,164.1 L1469.5,164.4 L1469.8,164.7 L1470.2,165.1 L1470.5,165.4 L1470.8,165.8 L1471.1,166.2 L1471.5,166.6 L1471.8,167.1 L1472.1,167.5 L1472.4,168.0 L1472.7,168.4 L1473.0,168.9 L1473.3,169.4 L1473.6,169.8 L1473.8,170.3 L1474.1,170.8 L1474.4,171.2 L1474.6,171.7 L1474.9,172.2 L1475.1,172.7 L1475.4,173.3 L1475.6,173.9 L1475.8,174.5 L1476.1,175.2 L1476.3,175.9 L1476.5,176.7 L1476.8,177.6 L1477.0,178.5 L1477.2,179.5 L1477.4,180.6 L1477.6,181.8 L1477.8,183.1 L1478.0,184.4 L1478.2,185.8 L1478.4,187.3 L1478.6,188.7 L1478.8,190.2 L1479.0,191.6 L1479.2,193.0 L1479.4,194.4 L1479.5,195.4" fill="none" stroke="#0000ff" stroke-width="6.5" stroke-linecap="round" stroke-linejoin="round"/>
<path d="M1486.5,215.9 L1486.9,216.3 L1487.7,217.1 L1488.5,218.0 L1489.3,218.8 L1490.2,219.6 L1491.0,220.4 L1491.9,221.2 L1492.7,221.9 L1493.5,222.6 L1494.3,223.3 L1495.0,223.9 L1495.7,224.5 L1496.3,225.1 L1496.8,225.6 L1497.2,226.0 L1497.6,226.4 L1497.9,226.8 L1498.1,227.1 L1498.3,227.4 L1498.5,227.7 L1498.7,227.9 L1498.9,228.2 L1499.2,228.4 L1499.5,228.6 L1499.9,228.9 L1500.4,229.1 L1501.0,229.3 L1501.8,229.6 L1502.7,229.9 L1503.7,230.2 L1504.9,230.5 L1506.2,230.8 L1507.5,231.2 L1509.0,231.5 L1510.5,231.8 L1512.1,232.1 L1513.8,232.5 L1515.5,232.8 L1517.2,233.1 L1519.0,233.4 L1520.8,233.8 L1522.6,234.1 L1524.4,234.4 L1526.2,234.7 L1528.0,235.0 L1529.8,235.3 L1531.7,235.6 L1533.6,235.9 L1535.5,236.2 L1537.5,236.6 L1539.5,236.9 L1541.5,237.2 L1543.6,237.5 L1545.6,237.8 L1547.7,238.1 L1549.8,238.4 L1551.8,238.6 L1553.9,238.9 L1556.0,239.1 L1558.0,239.3 L1560.0,239.5 L1562.0,239.7 L1564.1,239.8 L1566.2,240.0 L1568.4,240.1 L1570.5,240.2 L1572.7,240.3 L1574.9,240.4 L1577.0,240.4 L1579.1,240.5 L1581.2,240.5 L1583.2,240.6 L1585.1,240.6 L1587.0,240.6 L1588.8,240.6 L1590.4,240.5 L1592.0,240.5 L1593.4,240.4 L1594.8,240.4 L1596.0,240.3 L1597.1,240.2 L1598.1,240.1 L1599.1,239.9 L1600.1,239.8 L1600.9,239.6 L1601.8,239.5 L1602.6,239.3 L1603.5,239.1 L1604.3,238.9 L1605.2,238.7 L1606.1,238.5 L1607.0,238.2 L1608.0,238.0 L1609.0,237.8 L1610.1,237.5 L1611.2,237.2 L1612.4,236.9 L1613.5,236.5 L1614.7,236.2 L1615.8,235.8 L1616.9,235.5 L1618.1,235.1 L1619.2,234.8 L1620.2,234.4 L1621.3,234.1 L1622.3,233.8 L1623.3,233.5 L1624.2,233.2 L1625.0,233.0 L1625.8,232.8 L1626.5,232.6 L1627.2,232.4 L1627.9,232.2 L1628.5,232.1 L1629.1,231.9 L1629.7,231.8 L1630.2,231.6 L1630.7,231.5 L1631.2,231.4 L1631.7,231.3 L1632.1,231.2 L1632.6,231.1 L1633.1,231.1 L1633.5,231.0 L1634.0,231.0 L1634.4,231.0 L1634.8,230.9 L1635.2,230.9 L1635.5,230.8 L1635.8,230.8 L1636.0,230.7 L1636.3,230.7 L1636.6,230.7 L1636.8,230.7 L1637.1,230.8 L1637.5,230.8 L1637.9,231.0 L1638.3,231.2 L1638.8,231.4 L1639.4,231.7 L1640.0,232.0 L1640.7,232.4 L1641.6,232.9 L1642.5,233.5 L1643.5,234.2 L1644.5,234.9 L1645.6,235.7 L1646.7,236.5 L1647.8,237.3 L1648.9,238.1 L1650.1,238.9 L1651.2,239.7 L1652.3,240.5 L1653.3,241.2 L1654.3,241.9 L1655.2,242.5 L1656.0,243.0 L1656.7,243.5 L1657.4,243.9 L1658.0,244.3 L1658.5,244.7 L1658.9,245.0 L1659.4,245.3 L1659.8,245.6 L1660.2,245.8 L1660.6,246.1 L1661.1,246.3 L1661.6,246.5 L1662.1,246.7 L1662.7,246.9 L1663.4,247.1 L1664.1,247.3 L1665.0,247.5 L1666.0,247.7 L1667.1,247.8 L1668.4,247.9 L1669.7,248.1 L1671.1,248.1 L1672.5,248.2 L1674.0,248.3 L1675.5,248.3 L1677.0,248.4 L1678.5,248.5 L1679.9,248.5 L1681.3,248.6 L1682.5,248.7 L1683.7,248.8 L1684.8,248.9 L1685.7,249.0 L1686.5,249.1 L1687.2,249.3 L1687.8,249.4 L1688.3,249.5 L1688.7,249.7 L1689.1,249.8 L1689.4,250.0 L1689.7,250.1 L1690.0,250.3 L1690.3,250.5 L1690.5,250.7 L1690.7,250.9 L1691.0,251.1 L1691.3,251.4 L1691.6,251.7 L1692.0,252.0 L1692.4,252.4 L1692.8,252.8 L1693.3,253.2 L1693.8,253.8 L1694.2,254.3 L1694.7,254.8 L1695.2,255.4 L1695.6,256.0 L1696.1,256.6 L1696.5,257.1 L1696.9,257.6 L1697.3,258.1 L1697.7,258.6 L1698.0,259.0 L1698.3,259.3 L1698.5,259.6" fill="none" stroke="#0000ff" stroke-width="7" stroke-linecap="round" stroke-linejoin="round"/>
<path d="M283.1,294.7 L283.4,296.2 L283.7,298.0 L284.0,299.8 L284.3,301.8 L284.6,303.8 L285.0,305.9 L285.3,308.0 L285.7,310.1 L286.0,312.2 L286.3,314.2 L286.7,316.3 L286.9,318.2 L287.2,320.0 L287.4,321.7 L287.5,322.5" fill="none" stroke="#000000" stroke-width="7.5" stroke-linecap="round" stroke-linejoin="round"/>
<path d="M291.0,351.7 L291.3,353.6 L291.7,355.8 L292.0,358.0 L292.4,360.3 L292.7,362.6 L293.1,364.9 L293.5,367.2 L293.9,369.6 L294.3,371.9 L294.7,374.2 L295.1,376.4 L295.4,378.7 L295.8,380.9 L296.1,382.3" fill="none" stroke="#000000" stroke-width="7.5" stroke-linecap="round" stroke-linejoin="round"/>
<path d="M302.1,414.2 L302.2,414.8 L302.7,417.8 L303.3,421.0 L303.9,424.3 L304.4,427.7 L305.1,431.3 L305.7,435.0 L306.3,438.8 L307.0,442.7 L307.2,444.1" fill="none" stroke="#000000" stroke-width="7.5" stroke-linecap="round" stroke-linejoin="round"/>
<path d="M312.9,478.2 L313.4,481.6 L314.2,486.4 L315.0,491.4 L315.8,496.4 L316.6,501.6 L317.4,506.9 L317.6,507.9" fill="none" stroke="#000000" stroke-width="7.5" stroke-linecap="round" stroke-linejoin="round"/>
<path d="M322.5,539.7 L323.2,544.5 L324.1,549.8 L324.9,554.9 L325.7,560.0 L326.5,565.1 L327.4,570.3 L327.5,570.8" fill="none" stroke="#000000" stroke-width="7.5" stroke-linecap="round" stroke-linejoin="round"/>
<path d="M332.7,602.1 L332.8,602.8 L333.7,608.0 L334.5,613.0 L335.4,617.8 L336.1,622.3 L336.9,626.5 L337.5,630.4 L337.7,631.3" fill="none" stroke="#000000" stroke-width="7.5" stroke-linecap="round" stroke-linejoin="round"/>
<path d="M343.2,658.3 L343.4,659.3 L343.8,661.6 L344.2,664.0 L344.6,666.4 L345.0,668.9 L345.4,671.5 L345.9,674.1 L346.3,676.6 L346.8,679.2 L347.2,681.7 L347.6,684.2 L348.1,686.6 L348.5,688.7" fill="none" stroke="#000000" stroke-width="7.5" stroke-linecap="round" stroke-linejoin="round"/>
<path d="M353.1,712.2 L353.2,712.7 L353.7,714.8 L354.1,717.0 L354.6,719.2 L355.0,721.4 L355.5,723.6 L356.0,725.9 L356.5,728.1 L357.0,730.4 L357.5,732.7 L358.0,735.0 L358.5,737.4 L359.0,739.7 L359.4,741.3" fill="none" stroke="#000000" stroke-width="7.5" stroke-linecap="round" stroke-linejoin="round"/>
<path d="M363.6,760.2 L363.7,760.8 L364.2,763.1 L364.7,765.5 L365.2,767.9 L365.6,770.3 L366.1,772.7 L366.6,775.1 L367.0,777.5 L367.5,779.9 L368.0,782.3 L368.4,784.7 L368.9,787.0 L369.3,789.3 L369.3,789.3" fill="none" stroke="#000000" stroke-width="7.5" stroke-linecap="round" stroke-linejoin="round"/>
<path d="M372.3,803.2 L372.4,803.8 L372.9,805.7 L373.3,807.6 L373.7,809.4 L374.2,811.2 L374.6,813.0 L375.0,814.7 L375.4,816.4 L375.8,818.0 L376.2,819.7 L376.5,821.2 L376.9,822.8 L377.2,824.3 L377.5,825.8 L377.8,827.2 L378.0,828.6 L378.2,829.9 L378.4,831.2 L378.6,832.4 L378.7,833.3" fill="none" stroke="#000000" stroke-width="7.5" stroke-linecap="round" stroke-linejoin="round"/>
<path d="M380.0,842.5 L380.0,842.6 L380.2,843.8 L380.5,845.0 L380.8,846.3 L381.1,847.6 L381.5,848.9 L381.9,850.2 L382.3,851.5 L382.7,852.9 L383.1,854.2 L383.6,855.6 L384.0,856.9 L384.4,858.3 L384.9,859.6 L385.3,860.9 L385.8,862.2 L386.2,863.5 L386.6,864.8 L387.0,866.0 L387.4,867.2 L387.8,868.5 L388.2,869.7 L388.6,870.9 L389.0,872.1 L389.4,873.4 L389.8,874.6 L390.2,875.8 L390.6,876.9 L391.0,878.0 L391.3,879.1 L391.7,880.2 L392.1,881.2 L392.4,882.2 L392.8,883.1 L393.1,884.0 L393.4,884.8 L393.7,885.6 L394.0,886.3 L394.3,887.0 L394.6,887.6 L394.8,888.2 L395.1,888.8 L395.3,889.3 L395.6,889.8 L395.9,890.3 L396.1,890.8 L396.4,891.2 L396.6,891.7 L396.9,892.1 L397.2,892.6 L397.5,893.0 L397.8,893.4 L398.1,893.9 L398.5,894.3 L398.8,894.7 L399.1,895.1 L399.5,895.5 L399.8,895.9 L400.2,896.2 L400.5,896.6 L400.9,896.9 L401.2,897.2 L401.5,897.4 L401.9,897.7 L402.2,897.9 L402.6,898.1 L402.9,898.2 L403.2,898.3 L403.6,898.4 L403.9,898.5 L404.2,898.6 L404.5,898.6 L404.9,898.6 L405.2,898.6 L405.5,898.6 L405.8,898.5 L406.2,898.4 L406.5,898.3 L406.8,898.1 L407.1,897.9 L407.4,897.6 L407.7,897.3 L408.0,897.0 L408.3,896.6 L408.6,896.1 L408.9,895.6 L409.2,895.0 L409.5,894.4 L409.8,893.8 L410.1,893.1 L410.3,892.4 L410.6,891.6 L410.9,890.9 L411.2,890.2 L411.4,889.4 L411.7,888.7 L411.9,888.0 L412.2,887.3 L412.4,886.6 L412.6,885.9 L412.8,885.3 L413.0,884.6 L413.2,883.9 L413.4,883.3 L413.6,882.6 L413.8,881.9 L413.9,881.3 L414.1,880.6 L414.3,879.9 L414.4,879.3 L414.6,878.7 L414.8,878.0 L414.9,877.4 L415.1,876.9 L415.3,876.3 L415.5,875.8 L415.7,875.2 L415.9,874.7 L416.1,874.2 L416.3,873.7 L416.5,873.2 L416.7,872.8 L416.9,872.3 L417.1,871.9 L417.3,871.4 L417.5,871.0 L417.7,870.6 L417.9,870.2 L418.1,869.8 L418.3,869.4 L418.5,869.0 L418.7,868.6 L418.9,868.3 L419.1,867.9 L419.4,867.5 L419.6,867.2 L419.8,866.9 L420.0,866.6 L420.2,866.2 L420.4,865.9 L420.7,865.6 L420.9,865.4 L421.1,865.1 L421.3,864.8 L421.6,864.5 L421.8,864.3 L422.0,864.0 L422.2,863.7 L422.4,863.5 L422.6,863.3 L422.9,863.0 L423.1,862.8 L423.3,862.6 L423.5,862.4 L423.7,862.2 L423.9,862.0 L424.1,861.8 L424.3,861.6 L424.6,861.4 L424.8,861.3 L425.1,861.1 L425.3,860.9 L425.6,860.8 L425.9,860.7 L426.2,860.5 L426.4,860.4 L426.7,860.3 L427.0,860.2 L427.3,860.1 L427.6,860.1 L427.9,860.0 L428.2,859.9 L428.5,859.9 L428.9,859.8 L429.2,859.7 L429.6,859.7 L430.1,859.6 L430.5,859.6 L431.0,859.5 L431.5,859.4 L432.1,859.4 L432.6,859.3 L433.3,859.3 L433.9,859.2 L434.5,859.2 L435.2,859.1 L435.9,859.1 L436.6,859.0 L437.3,859.0 L438.0,859.0 L438.7,858.9 L439.4,858.9 L440.1,858.9 L440.8,858.8 L441.5,858.8 L442.1,858.8 L442.7,858.8 L443.1,858.7 L443.6,858.7 L444.0,858.7 L444.4,858.7 L444.8,858.7 L445.2,858.6 L445.7,858.6 L446.3,858.6 L447.0,858.6 L447.8,858.6 L448.7,858.6 L449.7,858.7 L451.0,858.7 L452.4,858.7 L454.0,858.7 L455.8,858.8 L457.7,858.8 L459.8,858.9 L462.0,858.9 L464.3,859.0 L466.8,859.0 L469.2,859.1 L471.8,859.2 L474.4,859.2 L477.1,859.3 L479.8,859.4 L482.5,859.5 L485.2,859.5 L487.8,859.6 L490.5,859.7 L493.1,859.8 L495.8,859.9 L498.4,860.0 L501.1,860.1 L503.7,860.2 L506.4,860.3 L509.2,860.4 L512.0,860.5 L514.8,860.7 L517.7,860.8 L520.6,860.9 L523.7,861.0 L526.8,861.0 L530.0,861.1 L533.2,861.2 L536.6,861.2 L540.1,861.2 L543.9,861.2 L547.8,861.2 L551.8,861.2 L555.9,861.2 L560.1,861.2 L564.4,861.1 L568.7,861.1 L573.0,861.0 L577.2,861.0 L581.3,860.9 L585.4,860.9 L589.3,860.8 L593.1,860.8 L596.6,860.7 L600.0,860.7 L603.1,860.7 L606.0,860.6 L608.7,860.6 L611.2,860.6 L613.6,860.6 L615.8,860.6 L618.0,860.6 L620.2,860.5 L622.4,860.5 L624.6,860.5 L626.8,860.4 L629.1,860.4 L631.6,860.3 L634.2,860.2 L637.0,860.1 L640.0,860.0 L643.2,859.9 L646.5,859.7 L649.9,859.5 L653.4,859.3 L656.9,859.1 L660.6,858.9 L664.3,858.7 L668.1,858.5 L672.0,858.2 L675.9,858.0 L679.8,857.7 L683.8,857.5 L687.8,857.2 L691.9,857.0 L695.9,856.7 L700.0,856.5 L704.1,856.3 L708.2,856.0 L712.4,855.8 L716.6,855.5 L720.8,855.2 L725.1,855.0 L729.4,854.7 L733.8,854.4 L738.1,854.2 L742.6,853.9 L747.1,853.6 L751.6,853.4 L756.1,853.1 L760.7,852.9 L765.3,852.6 L770.0,852.4 L774.7,852.2 L779.5,851.9 L784.2,851.7 L789.1,851.5 L793.9,851.3 L798.8,851.1 L803.8,850.8 L808.8,850.6 L813.8,850.4 L818.8,850.2 L823.9,850.0 L829.1,849.8 L834.2,849.6 L839.5,849.4 L844.7,849.2 L850.0,849.0 L855.4,848.8 L860.8,848.6 L866.4,848.4 L872.0,848.2 L877.7,848.0 L883.5,847.8 L889.2,847.6 L895.0,847.4 L900.8,847.2 L906.5,847.0 L912.3,846.9 L918.0,846.7 L923.6,846.5 L929.2,846.3 L934.6,846.2 L940.0,846.0 L945.3,845.8 L950.5,845.7 L955.6,845.6 L960.7,845.4 L965.7,845.3 L970.7,845.2 L975.7,845.0 L980.6,844.9 L985.5,844.8 L990.4,844.7 L995.3,844.6 L1000.2,844.5 L1005.1,844.3 L1010.1,844.2 L1015.0,844.1 L1020.0,844.0 L1025.1,843.9 L1030.2,843.8 L1035.4,843.7 L1040.7,843.5 L1046.0,843.4 L1051.3,843.3 L1056.6,843.2 L1061.9,843.1 L1067.1,843.0 L1072.2,842.9 L1077.2,842.8 L1082.1,842.7 L1086.9,842.6 L1091.4,842.4 L1095.8,842.3 L1100.0,842.2 L1104.0,842.1 L1107.8,841.9 L1111.5,841.8 L1115.1,841.7 L1118.5,841.6 L1121.8,841.4 L1125.0,841.3 L1128.1,841.2 L1131.1,841.0 L1134.0,840.9 L1136.9,840.7 L1139.6,840.6 L1142.3,840.4 L1144.9,840.3 L1147.5,840.2 L1150.0,840.0 L1152.4,839.8 L1154.7,839.7 L1156.8,839.5 L1158.9,839.3 L1160.8,839.1 L1162.7,838.9 L1164.5,838.8 L1166.2,838.6 L1167.9,838.4 L1169.6,838.2 L1171.2,838.0 L1172.9,837.9 L1174.6,837.7 L1176.3,837.6 L1178.1,837.4 L1180.0,837.3 L1181.9,837.2 L1183.8,837.1 L1185.8,837.0 L1187.7,837.0 L1189.6,836.9 L1191.6,836.9 L1193.5,836.9 L1195.4,836.8 L1197.4,836.8 L1199.3,836.8 L1201.3,836.7 L1203.2,836.7 L1205.2,836.6 L1207.1,836.5 L1209.1,836.4 L1211.0,836.3 L1213.0,836.2 L1215.0,836.0 L1217.0,835.9 L1219.1,835.7 L1221.2,835.5 L1223.3,835.3 L1225.4,835.1 L1227.4,834.9 L1229.5,834.7 L1231.4,834.5 L1233.4,834.3 L1235.3,834.1 L1237.1,833.9 L1238.8,833.7 L1240.4,833.4 L1241.9,833.2 L1243.3,833.0 L1244.6,832.7 L1245.8,832.5 L1247.0,832.2 L1248.1,832.0 L1249.1,831.7 L1250.0,831.5 L1250.9,831.2 L1251.8,831.0 L1252.6,830.7 L1253.5,830.4 L1254.3,830.1 L1255.0,829.9 L1255.8,829.6 L1256.6,829.3 L1257.4,829.0 L1258.2,828.7 L1258.9,828.4 L1259.7,828.2 L1260.3,827.9 L1261.0,827.7 L1261.6,827.4 L1262.3,827.1 L1262.9,826.8 L1263.5,826.5 L1264.1,826.2 L1264.6,825.9 L1265.2,825.6 L1265.8,825.2 L1266.4,824.8 L1267.1,824.4 L1267.7,823.9 L1268.3,823.4 L1269.0,822.9 L1269.6,822.4 L1270.3,821.8 L1270.9,821.2 L1271.6,820.7 L1272.2,820.0 L1272.9,819.4 L1273.6,818.8 L1274.2,818.1 L1274.9,817.4 L1275.5,816.7 L1276.2,815.9 L1276.8,815.1 L1277.5,814.3 L1278.1,813.5 L1278.7,812.6 L1279.4,811.8 L1280.1,810.8 L1280.7,809.9 L1281.4,808.9 L1282.0,807.9 L1282.7,806.9 L1283.3,805.9 L1284.0,804.8 L1284.6,803.7 L1285.3,802.6 L1285.9,801.5 L1286.5,800.4 L1287.2,799.3 L1287.8,798.1 L1288.4,797.0 L1289.0,795.9 L1289.6,794.7 L1290.1,793.6 L1290.7,792.5 L1291.2,791.3 L1291.7,790.2 L1292.2,789.0 L1292.8,787.8 L1293.3,786.6 L1293.8,785.4 L1294.4,784.1 L1295.0,782.8 L1295.6,781.4 L1296.2,780.0 L1296.8,778.5 L1297.5,777.0 L1298.2,775.4 L1299.0,773.8 L1299.7,772.1 L1300.5,770.3 L1301.3,768.5 L1302.1,766.6 L1303.0,764.8 L1303.8,762.8 L1304.7,760.9 L1305.5,759.0 L1306.4,757.0 L1307.3,755.1 L1308.1,753.1 L1309.0,751.2 L1309.9,749.3 L1310.7,747.4 L1311.5,745.5 L1312.4,743.7 L1313.3,741.8 L1314.2,739.9 L1315.0,738.0 L1315.9,736.2 L1316.8,734.3 L1317.7,732.4 L1318.6,730.5 L1319.4,728.6 L1320.3,726.7 L1321.2,724.8 L1322.0,722.9 L1322.8,721.0 L1323.6,719.0 L1324.4,717.1 L1325.2,715.2 L1325.9,713.2 L1326.6,711.2 L1327.4,709.2 L1328.1,707.2 L1328.8,705.2 L1329.5,703.2 L1330.2,701.2 L1330.8,699.2 L1331.5,697.1 L1332.1,695.1 L1332.8,693.2 L1333.5,691.2 L1334.1,689.2 L1334.8,687.3 L1335.4,685.4 L1336.0,683.5 L1336.7,681.6 L1337.4,679.6 L1338.0,677.7 L1338.7,675.7 L1339.3,673.8 L1340.0,671.9 L1340.6,670.0 L1341.2,668.1 L1341.8,666.3 L1342.4,664.5 L1343.0,662.8 L1343.6,661.1 L1344.1,659.5 L1344.6,658.0 L1345.1,656.5 L1345.6,655.1 L1346.0,653.9 L1346.4,652.7 L1346.7,651.6 L1347.1,650.6 L1347.4,649.6 L1347.7,648.6 L1348.1,647.7 L1348.4,646.8 L1348.7,646.0 L1349.0,645.1 L1349.3,644.1 L1349.6,643.2 L1349.9,642.2 L1350.2,641.1 L1350.6,640.0 L1351.0,638.8 L1351.4,637.7 L1351.7,636.5 L1352.1,635.3 L1352.5,634.1 L1352.9,632.9 L1353.3,631.7 L1353.7,630.4 L1354.1,629.2 L1354.5,627.9 L1354.9,626.5 L1355.2,625.5" fill="none" stroke="#000000" stroke-width="7.5" stroke-linecap="round" stroke-linejoin="round"/>
<path d="M1357.1,618.9 L1357.4,617.7 L1357.9,615.9 L1358.4,614.1 L1358.9,612.1 L1359.3,610.1 L1359.8,608.1 L1360.3,606.0 L1360.8,604.0 L1361.3,601.9 L1361.8,600.0 L1362.3,598.0 L1362.7,596.2 L1363.1,594.5" fill="none" stroke="#000000" stroke-width="7.5" stroke-linecap="round" stroke-linejoin="round"/>
<path d="M1365.8,585.3 L1366.0,585.0 L1366.1,584.6 L1366.3,584.2 L1366.5,583.8 L1366.6,583.4 L1366.8,582.9 L1367.0,582.4 L1367.2,581.7 L1367.4,580.9 L1367.7,580.0 L1368.0,578.9 L1368.3,577.8 L1368.6,576.7 L1368.9,575.4 L1369.2,574.1 L1369.5,572.8 L1369.8,571.4 L1370.1,570.0 L1370.5,568.5 L1370.8,567.0 L1371.2,565.5 L1371.5,563.9 L1371.9,562.3 L1372.2,560.6 L1372.6,559.0 L1372.7,558.5" fill="none" stroke="#000000" stroke-width="7.5" stroke-linecap="round" stroke-linejoin="round"/>
<path d="M1375.6,545.9 L1375.8,544.8 L1376.3,542.9 L1376.7,540.9 L1377.1,538.9 L1377.6,536.9 L1378.1,534.8 L1378.5,532.7 L1379.0,530.5 L1379.5,528.3 L1380.0,526.0 L1380.5,523.7 L1381.0,521.2 L1381.3,519.9" fill="none" stroke="#000000" stroke-width="7.5" stroke-linecap="round" stroke-linejoin="round"/>
<path d="M1385.1,502.3 L1385.6,499.9 L1386.2,497.2 L1386.8,494.4 L1387.4,491.6 L1388.0,488.9 L1388.5,486.2 L1389.1,483.5 L1389.6,480.9 L1390.2,478.2 L1390.7,475.6 L1390.7,475.6" fill="none" stroke="#000000" stroke-width="7.5" stroke-linecap="round" stroke-linejoin="round"/>
<path d="M1394.9,455.0 L1395.0,454.8 L1395.5,452.1 L1396.0,449.3 L1396.5,446.6 L1397.1,443.7 L1397.6,440.8 L1398.1,437.9 L1398.7,434.9 L1399.2,431.9 L1399.7,428.9 L1400.2,425.9 L1400.3,425.2" fill="none" stroke="#000000" stroke-width="7.5" stroke-linecap="round" stroke-linejoin="round"/>
<path d="M1404.3,401.0 L1404.5,400.2 L1405.0,396.7 L1405.6,393.1 L1406.2,389.5 L1406.8,385.8 L1407.5,381.9 L1408.1,377.8 L1408.8,373.7 L1409.1,371.7" fill="none" stroke="#000000" stroke-width="7.5" stroke-linecap="round" stroke-linejoin="round"/>
<path d="M1414.1,340.8 L1414.3,339.4 L1415.0,335.2 L1415.6,331.2 L1416.2,327.2 L1416.8,323.4 L1417.4,319.7 L1417.9,315.9 L1418.4,312.2" fill="none" stroke="#000000" stroke-width="7.5" stroke-linecap="round" stroke-linejoin="round"/>
<path d="M1423.5,274.8 L1423.9,272.5 L1424.3,270.0 L1424.7,267.8 L1425.1,265.8 L1425.5,264.1 L1425.8,262.6 L1426.2,261.2 L1426.5,260.0 L1426.9,258.9 L1427.2,257.8 L1427.5,256.8 L1427.9,255.8 L1428.2,254.7 L1428.5,253.5 L1428.8,252.3 L1429.1,250.9 L1429.4,249.3 L1429.4,249.2" fill="none" stroke="#000000" stroke-width="7.5" stroke-linecap="round" stroke-linejoin="round"/>
<path d="M1434.0,207.3 L1434.0,206.9 L1434.4,204.8 L1434.8,202.8 L1435.2,200.8 L1435.6,198.9 L1436.0,197.0 L1436.5,195.1 L1436.9,193.3 L1437.3,191.5 L1437.8,189.7 L1438.2,187.9 L1438.6,186.2 L1439.0,184.4 L1439.4,182.7 L1439.8,181.0 L1439.8,180.7" fill="none" stroke="#000000" stroke-width="7.5" stroke-linecap="round" stroke-linejoin="round"/>
<path d="M1444.1,154.4 L1444.4,155.2 L1444.8,156.2 L1445.2,157.3 L1445.7,158.5 L1446.3,159.9 L1446.8,161.3 L1447.4,162.9 L1448.1,164.4 L1448.7,166.1 L1449.3,167.7 L1450.0,169.3 L1450.6,171.0 L1451.3,172.6 L1451.9,174.1 L1452.5,175.5 L1453.0,176.9 L1453.5,178.2 L1454.1,179.5 L1454.6,180.8 L1455.1,182.1 L1455.6,183.3 L1456.1,184.6 L1456.6,185.8 L1457.2,187.1 L1457.7,188.3 L1458.2,189.5 L1458.6,190.6 L1459.1,191.8 L1459.6,192.9 L1460.1,194.0 L1460.5,195.1 L1461.0,196.2 L1461.4,197.2 L1461.9,198.3 L1462.3,199.2 L1462.7,200.2 L1463.1,201.2 L1463.5,202.1 L1463.9,203.0 L1464.3,203.9 L1464.7,204.8 L1465.1,205.6 L1465.5,206.5 L1465.8,207.3 L1466.2,208.2 L1466.6,209.0 L1467.0,209.8 L1467.4,210.6 L1467.8,211.4 L1468.2,212.2 L1468.6,213.0 L1468.9,213.7 L1469.3,214.5 L1469.7,215.2 L1470.0,216.0 L1470.4,216.7 L1470.8,217.4 L1471.2,218.1 L1471.6,218.8 L1472.0,219.4 L1472.4,220.0 L1472.8,220.6 L1473.3,221.2 L1473.8,221.8 L1474.3,222.3 L1474.8,222.9 L1475.4,223.3 L1475.9,223.8 L1476.5,224.3 L1477.1,224.7 L1477.6,225.1 L1478.2,225.5 L1478.9,225.9 L1479.5,226.3 L1480.1,226.6 L1480.8,227.0 L1481.4,227.3 L1482.1,227.6 L1482.8,228.0 L1483.5,228.3 L1484.2,228.6 L1484.9,228.9 L1485.7,229.2 L1486.4,229.5 L1487.2,229.8 L1487.9,230.1 L1488.7,230.3 L1489.5,230.6 L1490.3,230.8 L1491.1,231.0 L1492.0,231.3 L1492.8,231.5 L1493.7,231.7 L1494.5,231.9 L1495.4,232.1 L1496.3,232.3 L1497.2,232.5 L1498.1,232.7 L1499.1,232.8 L1500.1,233.0 L1501.1,233.2 L1502.1,233.3 L1503.1,233.5 L1504.1,233.6 L1505.1,233.7 L1506.2,233.9 L1507.2,234.0 L1508.2,234.1 L1509.2,234.3 L1510.3,234.4 L1511.3,234.6 L1512.3,234.7 L1513.3,234.8 L1514.3,235.0 L1515.3,235.1 L1516.3,235.3 L1517.3,235.4 L1518.3,235.6 L1519.3,235.8 L1520.4,235.9 L1521.4,236.0 L1522.4,236.2 L1523.4,236.3 L1524.4,236.5 L1525.4,236.6 L1526.4,236.8 L1527.4,236.9 L1528.4,237.1 L1529.4,237.2 L1530.4,237.4 L1531.4,237.6 L1532.4,237.7 L1533.4,237.8 L1534.4,238.0 L1535.4,238.2 L1536.4,238.3 L1537.4,238.4 L1538.4,238.6 L1539.4,238.8 L1540.4,238.9 L1541.4,239.1 L1542.4,239.2 L1543.4,239.3 L1544.4,239.5 L1545.4,239.7 L1546.4,239.8 L1547.4,240.0 L1548.4,240.1 L1549.4,240.3 L1550.4,240.4 L1551.4,240.6 L1552.5,240.8 L1553.5,240.9 L1554.5,241.1 L1555.5,241.2 L1556.5,241.4 L1557.5,241.5 L1558.5,241.6 L1559.5,241.8 L1560.5,241.9 L1561.5,242.0 L1562.5,242.2 L1563.5,242.3 L1564.5,242.4 L1565.5,242.5 L1566.5,242.7 L1567.5,242.8 L1568.5,242.9 L1569.5,243.0 L1570.5,243.1 L1571.5,243.2 L1572.5,243.3 L1573.5,243.4 L1574.5,243.4 L1575.5,243.5 L1576.5,243.5 L1577.5,243.5 L1578.5,243.5 L1579.5,243.5 L1580.5,243.5 L1581.5,243.5 L1582.5,243.4 L1583.5,243.4 L1584.5,243.3 L1585.6,243.3 L1586.6,243.2 L1587.6,243.1 L1588.6,243.1 L1589.6,243.0 L1590.6,242.9 L1591.6,242.8 L1592.6,242.7 L1593.6,242.6 L1594.6,242.5 L1595.6,242.4 L1596.6,242.3 L1597.6,242.2 L1598.6,242.1 L1599.6,241.9 L1600.6,241.8 L1601.6,241.7 L1602.6,241.5 L1603.6,241.3 L1604.6,241.2 L1605.6,241.0 L1606.6,240.8 L1607.6,240.5 L1608.6,240.3 L1609.6,240.0 L1610.6,239.8 L1611.7,239.5 L1612.7,239.1 L1613.7,238.8 L1614.8,238.5 L1615.8,238.1 L1616.8,237.8 L1617.9,237.4 L1618.9,237.0 L1619.9,236.6 L1620.9,236.2 L1621.9,235.8 L1622.8,235.5 L1623.8,235.1 L1624.7,234.7 L1625.6,234.3 L1626.5,233.9 L1627.4,233.4 L1628.3,232.9 L1629.2,232.4 L1630.0,231.9 L1630.9,231.4 L1631.7,230.9 L1632.5,230.5 L1633.3,230.0 L1634.1,229.6 L1634.8,229.2 L1635.5,228.9 L1636.2,228.6 L1636.9,228.4 L1637.5,228.3 L1638.1,228.2 L1638.6,228.2 L1639.0,228.1 L1639.4,228.2 L1639.8,228.2 L1640.1,228.3 L1640.4,228.4 L1640.7,228.6 L1641.0,228.8 L1641.3,229.1 L1641.6,229.4 L1642.0,229.7 L1642.4,230.1 L1642.8,230.5 L1643.3,231.0 L1643.9,231.5 L1644.5,232.1 L1645.2,232.8 L1646.0,233.6 L1646.8,234.5 L1647.7,235.5 L1648.5,236.5 L1649.4,237.5 L1650.3,238.6 L1651.3,239.7 L1652.2,240.7 L1653.0,241.7 L1653.9,242.7 L1654.7,243.6 L1655.5,244.5 L1656.2,245.2 L1656.8,245.9 L1657.4,246.5 L1657.9,247.0 L1658.4,247.5 L1658.8,247.9 L1659.2,248.3 L1659.5,248.6 L1659.9,249.0 L1660.2,249.2 L1660.5,249.5 L1660.9,249.7 L1661.2,249.9 L1661.5,250.1 L1661.9,250.3 L1662.3,250.4 L1662.7,250.6 L1663.2,250.7 L1663.7,250.8 L1664.2,250.8 L1664.8,250.9 L1665.3,250.8 L1665.9,250.8 L1666.5,250.7 L1667.1,250.6 L1667.7,250.4 L1668.3,250.3 L1668.9,250.2 L1669.6,250.1 L1670.2,250.0 L1670.8,249.9 L1671.5,249.9 L1672.1,249.9 L1672.8,249.9 L1673.5,250.0 L1674.2,250.0 L1674.9,250.1 L1675.6,250.2 L1676.4,250.3 L1677.1,250.5 L1677.9,250.6 L1678.7,250.7 L1679.4,250.9 L1680.1,251.1 L1680.9,251.3 L1681.6,251.4 L1682.3,251.6 L1682.9,251.9 L1683.5,252.1 L1684.1,252.3 L1684.6,252.5 L1685.1,252.7 L1685.6,252.9 L1686.0,253.1 L1686.4,253.3 L1686.8,253.5 L1687.2,253.7 L1687.5,254.0 L1687.9,254.2 L1688.2,254.5 L1688.5,254.8 L1688.9,255.2 L1689.3,255.6 L1689.7,256.1 L1690.1,256.6 L1690.5,257.2 L1691.0,257.9 L1691.5,258.7 L1692.0,259.6 L1692.6,260.6 L1693.2,261.7 L1693.7,262.8 L1694.3,264.0 L1694.9,265.1 L1695.5,266.2 L1696.0,267.4 L1696.5,268.4 L1697.0,269.4 L1697.5,270.3 L1697.9,271.2 L1698.2,271.8 L1698.5,272.4" fill="none" stroke="#000000" stroke-width="7.5" stroke-linecap="round" stroke-linejoin="round"/>
</g>
<g id="valve">
<path d="M404.0,1238.0 L406.5,1225.0 L409.1,1211.0" fill="none" stroke="#00ff00" stroke-width="2" stroke-linecap="round" stroke-linejoin="round"/>
<path d="M409.1,1210.9 L409.3,1208.2 L409.5,1205.0 L409.8,1201.3 L410.1,1197.2 L410.4,1192.7 L410.8,1187.8 L411.1,1182.8 L411.5,1177.5 L411.9,1172.0 L412.3,1166.5 L412.6,1160.9 L413.0,1155.4 L413.3,1149.9 L413.7,1144.6 L413.9,1139.4 L414.2,1134.5 L414.4,1129.7 L414.6,1125.0 L414.8,1120.2 L415.0,1115.4 L415.2,1110.7 L415.3,1105.9 L415.5,1101.1 L415.6,1096.4 L415.7,1091.6 L415.9,1086.8 L416.0,1082.0 L416.1,1077.3 L416.3,1072.5 L416.4,1067.7 L416.5,1063.0 L416.7,1058.2 L416.9,1053.5 L417.0,1048.8 L417.2,1044.2 L417.3,1039.7 L417.5,1035.2 L417.7,1030.7 L417.8,1026.1 L418.0,1021.6 L418.2,1017.0 L418.3,1012.3 L418.5,1007.6 L418.7,1002.7 L418.8,997.7 L419.0,992.6 L419.1,987.3 L419.3,981.8 L419.5,976.2 L419.6,970.4 L419.8,964.5 L419.9,958.6 L420.1,952.5 L420.2,946.3 L420.4,940.0 L420.5,933.6 L420.7,927.2 L420.9,920.6 L421.0,914.0 L421.2,907.3 L421.3,900.6 L421.5,893.8 L421.6,886.9 L421.8,880.0 L422.0,873.0 L422.1,865.9 L422.3,858.6 L422.5,851.3 L422.7,843.8 L422.8,836.3 L423.0,828.8 L423.2,821.1 L423.4,813.5 L423.5,805.8 L423.7,798.1 L423.9,790.4 L424.0,782.8 L424.2,775.1 L424.4,767.5 L424.5,760.0 L424.6,752.4 L424.8,744.7 L424.9,736.9 L425.1,729.1 L425.2,721.2 L425.3,713.2 L425.5,705.3 L425.6,697.5 L425.7,689.7 L425.8,682.1 L426.0,674.5 L426.1,667.2 L426.2,660.0 L426.3,653.1 L426.4,646.4 L426.5,640.0 L426.6,633.9 L426.7,628.1 L426.8,622.5 L426.9,617.1 L427.0,611.9 L427.1,606.9 L427.1,602.0 L427.2,597.2 L427.3,592.5 L427.4,587.9 L427.5,583.3 L427.5,578.7 L427.6,574.1 L427.7,569.5 L427.7,564.8 L427.8,560.0 L427.9,555.1 L427.9,550.2 L428.0,545.2 L428.0,540.2 L428.1,535.2 L428.1,530.2 L428.2,525.2 L428.2,520.3 L428.3,515.5 L428.3,510.7 L428.4,506.1 L428.4,501.5 L428.5,497.1 L428.5,492.9 L428.6,488.9 L428.6,485.0 L428.6,481.3 L428.7,477.8 L428.7,474.4 L428.8,471.2 L428.8,468.1 L428.9,465.1 L428.9,462.3 L428.9,459.5 L429.0,456.8 L429.0,454.2 L429.0,451.7 L429.1,449.3 L429.1,446.9 L429.1,444.6 L429.2,442.3 L429.2,440.0 L429.2,437.8 L429.3,435.6 L429.3,433.4 L429.3,431.4 L429.3,429.3 L429.3,427.4 L429.4,425.5 L429.4,423.7 L429.4,422.0 L429.4,420.4 L429.4,418.8 L429.5,417.4 L429.5,416.1 L429.5,415.0 L429.5,413.9 L429.5,413.0" fill="none" stroke="#00ff00" stroke-width="6.5" stroke-linecap="round" stroke-linejoin="round"/>
<path d="M429.5,410.0 L429.6,410.5 L429.7,411.1 L429.8,411.7 L429.9,412.4 L430.0,413.2 L430.1,414.1 L430.2,414.9 L430.4,415.9 L430.5,416.9 L430.7,417.9 L430.8,419.0 L431.0,420.1 L431.1,421.3 L431.2,422.5 L431.4,423.7 L431.5,425.0 L431.6,426.3 L431.7,427.8 L431.9,429.3 L432.0,431.0 L432.1,432.7 L432.2,434.4 L432.3,436.2 L432.5,438.0 L432.6,439.8 L432.7,441.6 L432.8,443.3 L433.0,445.0 L433.1,446.6 L433.2,448.1 L433.4,449.4 L433.5,450.7 L433.6,451.8 L433.8,452.9 L433.9,453.9 L434.1,454.9 L434.2,455.7 L434.4,456.5 L434.5,457.3 L434.7,458.0 L434.8,458.7 L435.0,459.4 L435.2,460.0 L435.3,460.7 L435.5,461.3 L435.7,461.9 L435.8,462.5 L436.0,463.1 L436.2,463.7 L436.4,464.4 L436.5,465.0 L436.7,465.6 L436.9,466.3 L437.1,466.9 L437.3,467.5 L437.4,468.0 L437.6,468.6 L437.8,469.0 L438.0,469.4 L438.2,469.8 L438.4,470.1 L438.7,470.3 L438.9,470.5 L439.1,470.5 L439.3,470.5 L439.6,470.3 L439.8,470.1 L440.1,469.9 L440.4,469.6 L440.7,469.2 L441.0,468.7 L441.2,468.2 L441.5,467.7 L441.8,467.1 L442.1,466.5 L442.4,465.9 L442.7,465.2 L442.9,464.5 L443.2,463.8 L443.4,463.1 L443.6,462.4 L443.8,461.5 L444.1,460.7 L444.3,459.8 L444.5,458.9 L444.7,457.9 L444.9,456.9 L445.1,455.9 L445.2,454.8 L445.4,453.8 L445.6,452.7 L445.8,451.7 L446.0,450.6 L446.1,449.6 L446.3,448.6 L446.5,447.6 L446.7,446.6 L446.9,445.7 L447.0,444.7 L447.2,443.7 L447.4,442.8 L447.5,441.8 L447.7,440.9 L447.9,439.9 L448.0,438.9 L448.2,438.0 L448.3,437.0 L448.5,436.1 L448.6,435.1 L448.8,434.1 L448.9,433.2 L449.0,432.2 L449.1,431.2 L449.2,430.2 L449.3,429.2 L449.4,428.1 L449.5,427.1 L449.6,426.0 L449.6,424.9 L449.7,423.9 L449.8,422.8 L449.8,421.8 L449.9,420.9 L450.0,419.9 L450.0,419.0 L450.1,418.2 L450.1,417.4 L450.2,416.7 L450.3,416.0 L450.3,415.4 L450.3,414.8 L450.4,414.3 L450.4,413.8 L450.4,413.3 L450.4,412.8 L450.5,412.4 L450.5,412.1 L450.5,411.7 L450.6,411.4 L450.6,411.2 L450.7,411.0 L450.7,410.8 L450.8,410.6 L450.9,410.5 L451.0,410.4 L451.1,410.5 L451.2,410.6 L451.3,410.8 L451.5,411.0 L451.6,411.3 L451.8,411.6 L451.9,411.9 L452.1,412.2 L452.2,412.5 L452.4,412.8 L452.6,413.1 L452.7,413.3 L452.9,413.5 L453.1,413.6 L453.3,413.6 L453.5,413.6 L453.7,413.5 L454.0,413.3 L454.2,413.2 L454.5,413.0 L454.8,412.7 L455.0,412.5 L455.3,412.2 L455.6,411.9 L455.8,411.6 L456.1,411.4 L456.3,411.1 L456.5,410.9 L456.7,410.7 L456.9,410.5 L457.0,410.4" fill="none" stroke="#00ff00" stroke-width="2.6" stroke-linecap="round" stroke-linejoin="round"/>
<path d="M455.0,410.4 L536.0,410.4" fill="none" stroke="#00ff00" stroke-width="3.2" stroke-linecap="butt" stroke-linejoin="round"/>
<path d="M528.7,1238.0 L528.8,1234.4 L528.9,1230.0 L529.0,1225.0 L529.2,1219.4 L529.4,1213.2 L529.5,1206.7 L529.7,1199.8 L529.9,1192.6 L530.1,1185.2 L530.3,1177.7 L530.5,1170.2 L530.7,1162.7 L530.9,1155.3 L531.0,1148.1 L531.2,1141.1 L531.3,1134.5 L531.4,1128.2 L531.5,1122.0 L531.6,1116.0 L531.7,1110.1 L531.8,1104.3 L531.8,1098.4 L531.9,1092.6 L532.0,1086.7 L532.0,1080.7 L532.1,1074.5 L532.2,1068.2 L532.2,1061.7 L532.3,1054.9 L532.4,1047.8 L532.4,1040.5 L532.5,1032.7 L532.6,1024.6 L532.7,1016.2 L532.7,1007.6 L532.8,998.7 L532.9,989.7 L533.0,980.4 L533.1,970.9 L533.1,961.2 L533.2,951.4 L533.3,941.5 L533.4,931.4 L533.5,921.3 L533.6,911.0 L533.6,900.7 L533.7,890.4 L533.8,880.0 L533.9,869.7 L534.0,859.5 L534.0,849.5 L534.1,839.5 L534.2,829.4 L534.2,819.2 L534.3,809.0 L534.4,798.5 L534.5,787.7 L534.5,776.6 L534.6,765.1 L534.7,753.2 L534.8,740.8 L534.8,727.9 L534.9,714.3 L535.0,700.0 L535.1,684.4 L535.2,667.2 L535.3,648.6 L535.4,628.8 L535.5,608.3 L535.6,587.3 L535.7,566.0 L535.8,544.8 L535.9,523.9 L536.0,503.7 L536.1,484.4 L536.1,466.3 L536.2,449.7 L536.3,435.0 L536.4,422.3 L536.4,412.0" fill="none" stroke="#ff0000" stroke-width="7" stroke-linecap="round" stroke-linejoin="round"/>
<path d="M536.0,410.4 L1268.8,410.4" fill="none" stroke="#ff0000" stroke-width="3.2" stroke-linecap="butt" stroke-linejoin="round"/>
<path d="M1269.0,410.4 L1269.2,410.7 L1269.5,411.1 L1269.9,411.5 L1270.3,411.9 L1270.7,412.4 L1271.1,412.9 L1271.6,413.5 L1272.1,414.1 L1272.6,414.7 L1273.1,415.4 L1273.6,416.1 L1274.1,416.8 L1274.6,417.6 L1275.1,418.4 L1275.6,419.2 L1276.0,420.0 L1276.4,420.9 L1276.8,421.8 L1277.2,422.7 L1277.6,423.7 L1278.0,424.7 L1278.4,425.8 L1278.8,426.8 L1279.2,427.9 L1279.6,429.1 L1279.9,430.2 L1280.3,431.4 L1280.7,432.6 L1281.1,433.8 L1281.4,435.0 L1281.8,436.3 L1282.2,437.5 L1282.6,438.8 L1282.9,440.1 L1283.3,441.4 L1283.7,442.7 L1284.1,444.1 L1284.4,445.5 L1284.8,446.9 L1285.2,448.3 L1285.5,449.7 L1285.9,451.2 L1286.2,452.6 L1286.6,454.1 L1286.9,455.6 L1287.3,457.0 L1287.7,458.5 L1288.0,460.0 L1288.3,461.5 L1288.7,463.0 L1289.0,464.4 L1289.4,465.9 L1289.7,467.4 L1290.1,468.9 L1290.4,470.4 L1290.7,471.9 L1291.0,473.5 L1291.4,475.0 L1291.7,476.6 L1292.0,478.2 L1292.4,479.9 L1292.7,481.5 L1293.0,483.3 L1293.3,485.0 L1293.6,486.8 L1293.9,488.6 L1294.2,490.5 L1294.5,492.4 L1294.8,494.4 L1295.1,496.4 L1295.4,498.4 L1295.7,500.4 L1296.0,502.4 L1296.3,504.5 L1296.5,506.5 L1296.8,508.5 L1297.1,510.6 L1297.4,512.6 L1297.7,514.6 L1298.0,516.6 L1298.3,518.6 L1298.6,520.5 L1298.9,522.4 L1299.2,524.3 L1299.5,526.2 L1299.8,528.1 L1300.1,530.0 L1300.4,531.9 L1300.7,533.8 L1301.0,535.8 L1301.3,537.7 L1301.6,539.7 L1301.9,541.8 L1302.2,543.9 L1302.5,546.0 L1302.8,548.2 L1303.1,550.5 L1303.4,553.0 L1303.7,555.5 L1304.1,558.2 L1304.4,560.9 L1304.7,563.7 L1305.0,566.5 L1305.3,569.3 L1305.7,572.0 L1306.0,574.7 L1306.3,577.3 L1306.5,579.7 L1306.8,582.0 L1307.1,584.2 L1307.3,586.1 L1307.5,587.8 L1307.7,589.3 L1307.9,590.6 L1308.0,591.8 L1308.2,592.8 L1308.3,593.7 L1308.4,594.5 L1308.5,595.2 L1308.6,595.8 L1308.7,596.3 L1308.8,596.8 L1308.8,597.2 L1308.9,597.6 L1308.9,597.9 L1309.0,598.2 L1309.0,598.6 L1309.1,598.9" fill="none" stroke="#0000ff" stroke-width="2" stroke-linecap="round" stroke-linejoin="round"/>
<path d="M1312.1,627.0 L1312.1,627.4 L1312.2,627.8 L1312.2,628.2 L1312.3,628.7 L1312.3,629.2 L1312.4,629.7 L1312.4,630.3 L1312.5,630.9 L1312.6,631.7 L1312.7,632.5 L1312.7,633.4 L1312.8,634.5 L1313.0,635.6 L1313.1,636.9 L1313.2,638.4 L1313.4,640.0 L1313.6,641.8 L1313.8,643.8 L1314.0,646.0 L1314.2,648.3 L1314.5,650.8 L1314.7,653.4 L1315.0,656.1 L1315.3,658.9 L1315.5,661.7 L1315.8,664.6 L1316.1,667.4 L1316.4,670.3 L1316.7,673.2 L1317.0,675.9 L1317.2,678.7 L1317.5,681.3 L1317.8,683.9 L1318.0,686.5 L1318.3,689.0 L1318.5,691.6 L1318.8,694.2 L1319.1,696.8 L1319.3,699.4 L1319.6,702.0 L1319.9,704.5 L1320.1,707.1 L1320.4,709.7 L1320.7,712.3 L1320.9,714.9 L1321.2,717.4 L1321.4,720.0 L1321.7,722.6 L1322.0,725.2 L1322.2,727.8 L1322.5,730.3 L1322.8,732.9 L1323.0,735.5 L1323.3,738.1 L1323.6,740.7 L1323.8,743.2 L1324.1,745.8 L1324.4,748.4 L1324.6,751.0 L1324.9,753.6 L1325.1,756.2 L1325.4,758.7 L1325.6,761.3 L1325.8,763.9 L1326.0,766.5 L1326.2,769.0 L1326.4,771.6 L1326.6,774.1 L1326.8,776.7 L1327.0,779.2 L1327.1,781.8 L1327.3,784.3 L1327.5,786.9 L1327.6,789.5 L1327.8,792.0 L1327.9,794.6 L1328.1,797.2 L1328.2,799.9 L1328.4,802.5 L1328.5,805.2 L1328.6,807.6 L1328.7,809.6 L1328.7,811.3 L1328.7,812.7 L1328.7,814.0 L1328.7,815.2 L1328.7,816.6 L1328.7,818.1 L1328.8,820.0 L1328.8,822.2 L1328.9,825.0 L1329.0,828.3 L1329.2,832.4 L1329.5,837.3 L1329.8,843.1 L1330.2,850.0 L1330.7,858.0 L1331.3,867.0 L1331.9,876.9 L1332.6,887.7 L1333.4,899.2 L1334.3,911.3 L1335.1,923.9 L1336.0,936.9 L1336.9,950.3 L1337.8,963.7 L1338.7,977.3 L1339.5,990.9 L1340.4,1004.3 L1341.2,1017.5 L1341.9,1030.3 L1342.6,1042.7 L1343.2,1055.2 L1343.9,1068.3 L1344.5,1081.9 L1345.1,1095.9 L1345.7,1110.1 L1346.3,1124.3 L1346.9,1138.5 L1347.5,1152.4 L1348.0,1165.9 L1348.5,1179.0 L1349.0,1191.3 L1349.4,1202.8 L1349.8,1213.4 L1350.2,1222.9 L1350.5,1231.2 L1350.8,1238.0" fill="none" stroke="#0000ff" stroke-width="7" stroke-linecap="round" stroke-linejoin="round"/>
<circle cx="1309.2" cy="598.5" r="3.6" fill="#0000ff"/>
<circle cx="1310.1" cy="607" r="3.6" fill="#0000ff"/>
<circle cx="1311.4" cy="618.5" r="3.6" fill="#0000ff"/>
<path d="M1269.6,410.6 L1269.8,411.3 L1270.0,412.1 L1270.3,413.0 L1270.6,414.0 L1270.9,415.0 L1271.2,416.2 L1271.6,417.4 L1272.0,418.7 L1272.4,420.1 L1272.8,421.5 L1273.2,422.9 L1273.6,424.3 L1273.9,425.7 L1274.3,427.2 L1274.7,428.6 L1275.0,430.0 L1275.3,431.4 L1275.6,432.8 L1276.0,434.3 L1276.3,435.7 L1276.6,437.2 L1276.9,438.7 L1277.2,440.3 L1277.5,441.8 L1277.8,443.4 L1278.1,445.0 L1278.5,446.6 L1278.8,448.3 L1279.1,449.9 L1279.4,451.6 L1279.7,453.3 L1280.0,455.0 L1280.3,456.7 L1280.6,458.5 L1281.0,460.4 L1281.3,462.3 L1281.6,464.2 L1281.9,466.1 L1282.3,468.0 L1282.6,470.0 L1282.9,472.0 L1283.2,473.9 L1283.5,475.8 L1283.9,477.7 L1284.2,479.6 L1284.4,481.5 L1284.7,483.3 L1285.0,485.0 L1285.3,486.7 L1285.5,488.4 L1285.8,490.1 L1286.0,491.8 L1286.2,493.5 L1286.5,495.1 L1286.7,496.8 L1286.9,498.4 L1287.1,500.0 L1287.3,501.5 L1287.5,503.0 L1287.7,504.5 L1287.9,505.9 L1288.1,507.3 L1288.3,508.7 L1288.5,510.0 L1288.7,511.3 L1288.9,512.5 L1289.1,513.8 L1289.3,515.0 L1289.4,516.2 L1289.6,517.4 L1289.8,518.5 L1290.0,519.6 L1290.1,520.6 L1290.3,521.6 L1290.4,522.5 L1290.6,523.3 L1290.7,524.1 L1290.8,524.8 L1290.9,525.5 L1291.0,526.0" fill="none" stroke="#000000" stroke-width="2" stroke-linecap="round" stroke-linejoin="round"/>
<path d="M1291.0,526.0 L1291.1,526.8 L1291.2,527.6 L1291.3,528.7 L1291.4,529.8 L1291.5,531.0 L1291.7,532.3 L1291.8,533.7 L1291.9,535.1 L1292.1,536.6 L1292.3,538.2 L1292.4,539.8 L1292.6,541.5 L1292.8,543.1 L1293.0,544.8 L1293.1,546.5 L1293.3,548.2 L1293.5,549.9 L1293.7,551.7 L1293.8,553.5 L1294.0,555.4 L1294.2,557.3 L1294.4,559.3 L1294.6,561.3 L1294.9,563.3 L1295.1,565.3 L1295.3,567.4 L1295.5,569.5 L1295.7,571.6 L1295.9,573.7 L1296.1,575.8 L1296.3,577.9 L1296.5,580.0 L1296.7,582.1 L1296.9,584.3 L1297.1,586.5 L1297.3,588.8 L1297.5,591.0 L1297.7,593.3 L1297.9,595.6 L1298.1,597.9 L1298.3,600.2 L1298.5,602.5 L1298.7,604.7 L1298.9,606.9 L1299.0,609.0 L1299.2,611.1 L1299.4,613.1 L1299.5,615.0 L1299.6,616.8 L1299.7,618.4 L1299.8,619.9 L1299.9,621.2 L1300.0,622.5 L1300.1,623.8 L1300.1,625.0 L1300.2,626.2 L1300.2,627.5 L1300.3,628.9 L1300.4,630.3 L1300.5,631.9 L1300.6,633.6 L1300.7,635.5 L1300.8,637.6 L1301.0,640.0 L1301.2,642.6 L1301.4,645.5 L1301.6,648.7 L1301.9,652.0 L1302.1,655.4 L1302.4,659.0 L1302.7,662.7 L1303.0,666.5 L1303.3,670.3 L1303.5,674.1 L1303.8,677.8 L1304.1,681.5 L1304.4,685.1 L1304.6,688.6 L1304.9,691.9 L1305.1,695.0 L1305.3,698.0 L1305.5,700.8 L1305.7,703.6 L1305.9,706.3 L1306.1,708.9 L1306.2,711.5 L1306.4,714.1 L1306.6,716.6 L1306.7,719.0 L1306.9,721.5 L1307.1,723.9 L1307.2,726.4 L1307.4,728.8 L1307.6,731.3 L1307.7,733.8 L1307.9,736.4 L1308.1,739.0 L1308.3,741.6 L1308.4,744.1 L1308.6,746.7 L1308.8,749.3 L1309.0,751.9 L1309.2,754.5 L1309.4,757.1 L1309.5,759.6 L1309.7,762.2 L1309.9,764.8 L1310.1,767.4 L1310.2,770.0 L1310.4,772.5 L1310.5,775.1 L1310.7,777.7 L1310.8,780.3 L1311.0,782.9 L1311.1,785.6 L1311.3,788.3 L1311.4,791.0 L1311.5,793.6 L1311.6,796.3 L1311.8,799.0 L1311.9,801.6 L1312.0,804.3 L1312.1,806.9 L1312.2,809.4 L1312.3,811.9 L1312.5,814.3 L1312.6,816.7 L1312.7,819.0 L1312.8,820.9 L1312.9,822.3 L1312.9,823.1 L1313.0,823.7 L1313.0,824.0 L1313.1,824.3 L1313.1,824.6 L1313.2,825.0 L1313.2,825.8 L1313.3,827.0 L1313.4,828.7 L1313.6,831.1 L1313.7,834.3 L1313.9,838.5 L1314.2,843.6 L1314.5,850.0 L1314.9,857.6 L1315.3,866.3 L1315.7,876.1 L1316.3,886.7 L1316.8,898.2 L1317.4,910.3 L1318.0,923.0 L1318.6,936.1 L1319.2,949.5 L1319.8,963.1 L1320.5,976.9 L1321.1,990.6 L1321.7,1004.1 L1322.2,1017.4 L1322.8,1030.3 L1323.3,1042.7 L1323.8,1055.2 L1324.3,1068.3 L1324.8,1081.9 L1325.3,1095.9 L1325.8,1110.1 L1326.3,1124.3 L1326.8,1138.5 L1327.3,1152.4 L1327.8,1165.9 L1328.2,1179.0 L1328.6,1191.3 L1329.0,1202.8 L1329.4,1213.4 L1329.7,1222.9 L1330.0,1231.2 L1330.2,1238.0" fill="none" stroke="#000000" stroke-width="7" stroke-linecap="round" stroke-linejoin="round"/>
<path d="M1268.8,410.4 L1268.9,410.8 L1269.0,411.2 L1269.1,411.6 L1269.3,412.1 L1269.4,412.6 L1269.6,413.1 L1269.7,413.7 L1269.9,414.3 L1270.1,415.0 L1270.3,415.8 L1270.5,416.6 L1270.7,417.6 L1270.9,418.5 L1271.1,419.6 L1271.3,420.8 L1271.5,422.0 L1271.7,423.4 L1271.9,425.0 L1272.2,426.9 L1272.4,428.8 L1272.7,430.9 L1272.9,433.1 L1273.2,435.3 L1273.5,437.6 L1273.7,439.8 L1274.0,441.9 L1274.2,444.0 L1274.4,445.9 L1274.6,447.7 L1274.8,449.3 L1275.0,450.6 L1275.1,451.7" fill="none" stroke="#ff0000" stroke-width="2" stroke-linecap="round" stroke-linejoin="round"/>
<path d="M1275.1,451.7 L1275.2,452.9 L1275.3,454.2 L1275.4,455.8 L1275.5,457.5 L1275.6,459.4 L1275.8,461.5 L1275.9,463.6 L1276.1,465.9 L1276.3,468.2 L1276.4,470.6 L1276.6,473.0 L1276.8,475.5 L1277.0,477.9 L1277.2,480.3 L1277.3,482.7 L1277.5,485.0 L1277.7,487.3 L1277.9,489.6 L1278.0,492.0 L1278.2,494.4 L1278.4,496.9 L1278.6,499.4 L1278.8,501.9 L1279.0,504.4 L1279.2,506.9 L1279.4,509.4 L1279.6,511.9 L1279.8,514.5 L1280.0,517.0 L1280.2,519.5 L1280.4,522.0 L1280.6,524.5 L1280.8,526.9 L1281.0,529.3 L1281.2,531.7 L1281.4,534.0 L1281.6,536.3 L1281.8,538.6 L1282.0,540.9 L1282.2,543.2 L1282.4,545.6 L1282.7,548.0 L1282.9,550.4 L1283.1,553.0 L1283.2,555.6 L1283.4,558.3 L1283.6,561.1 L1283.8,564.0 L1284.0,567.1 L1284.1,570.3 L1284.3,573.7 L1284.5,577.1 L1284.6,580.7 L1284.7,584.4 L1284.9,588.1 L1285.0,591.8 L1285.2,595.5 L1285.3,599.2 L1285.5,602.9 L1285.6,606.5 L1285.7,610.1 L1285.9,613.5 L1286.0,616.8 L1286.2,620.0 L1286.4,623.0 L1286.5,625.8 L1286.7,628.4 L1286.8,631.0 L1287.0,633.4 L1287.2,635.8 L1287.4,638.1 L1287.5,640.5 L1287.7,642.8 L1287.9,645.3 L1288.0,647.8 L1288.2,650.5 L1288.3,653.3 L1288.5,656.3 L1288.7,659.5 L1288.8,663.0 L1288.9,666.7 L1289.1,670.7 L1289.2,674.9 L1289.3,679.3 L1289.5,683.8 L1289.6,688.5 L1289.7,693.2 L1289.8,698.1 L1289.9,702.9 L1290.1,707.8 L1290.2,712.6 L1290.3,717.4 L1290.5,722.1 L1290.6,726.7 L1290.7,731.2 L1290.9,735.5 L1291.1,739.7 L1291.2,743.7 L1291.4,747.8 L1291.6,751.7 L1291.8,755.6 L1292.0,759.5 L1292.2,763.3 L1292.5,767.1 L1292.7,770.9 L1292.9,774.7 L1293.1,778.4 L1293.3,782.2 L1293.5,786.0 L1293.7,789.8 L1293.8,793.6 L1294.0,797.5 L1294.1,801.2 L1294.3,804.5 L1294.4,807.5 L1294.5,810.3 L1294.6,813.0 L1294.7,815.6 L1294.8,818.3 L1294.9,821.2 L1295.0,824.3 L1295.1,827.7 L1295.2,831.6 L1295.3,835.9 L1295.4,840.8 L1295.6,846.4 L1295.8,852.8 L1296.0,860.0 L1296.2,868.1 L1296.5,877.0 L1296.8,886.6 L1297.1,896.9 L1297.5,907.8 L1297.8,919.2 L1298.2,930.9 L1298.5,943.1 L1298.9,955.4 L1299.3,968.0 L1299.6,980.6 L1300.0,993.3 L1300.3,1005.9 L1300.7,1018.4 L1301.0,1030.7 L1301.3,1042.7 L1301.6,1054.9 L1301.9,1067.8 L1302.2,1081.3 L1302.5,1095.2 L1302.8,1109.4 L1303.1,1123.6 L1303.4,1137.8 L1303.7,1151.8 L1304.0,1165.4 L1304.2,1178.5 L1304.5,1191.0 L1304.7,1202.6 L1304.9,1213.3 L1305.1,1222.8 L1305.3,1231.1 L1305.4,1238.0" fill="none" stroke="#ff0000" stroke-width="7" stroke-linecap="round" stroke-linejoin="round"/>
<path d="M1275.1,451.7 L1275.2,452.9 L1275.3,454.2 L1275.4,455.8 L1275.5,457.5 L1275.6,459.4 L1275.8,461.5 L1275.9,463.6 L1276.1,465.9 L1276.3,468.2 L1276.4,470.6 L1276.6,473.0 L1276.8,475.5 L1277.0,477.9 L1277.2,480.3 L1277.3,482.7 L1277.5,485.0 L1277.7,487.3 L1277.9,489.6 L1278.0,492.0 L1278.2,494.4 L1278.4,496.9 L1278.6,499.4 L1278.8,501.9 L1279.0,504.4 L1279.2,506.9 L1279.4,509.4 L1279.6,511.9 L1279.8,514.5 L1280.0,517.0 L1280.2,519.5 L1280.4,522.0 L1280.6,524.5 L1280.8,526.9 L1281.0,529.3 L1281.2,531.7 L1281.4,534.0 L1281.6,536.3 L1281.8,538.6 L1282.0,540.9 L1282.2,543.2 L1282.4,545.6 L1282.7,548.0 L1282.9,550.4 L1283.1,553.0 L1283.2,555.6 L1283.4,558.3 L1283.6,561.1 L1283.8,564.0 L1284.0,567.1 L1284.1,570.3 L1284.3,573.7 L1284.5,577.1 L1284.6,580.7 L1284.7,584.4 L1284.9,588.1 L1285.0,591.8 L1285.2,595.5 L1285.3,599.2 L1285.5,602.9 L1285.6,606.5 L1285.7,610.1 L1285.9,613.5 L1286.0,616.8 L1286.2,620.0 L1286.4,623.0 L1286.5,625.8 L1286.7,628.4 L1286.8,631.0 L1287.0,633.4 L1287.2,635.8 L1287.4,638.1 L1287.5,640.5 L1287.7,642.8 L1287.9,645.3 L1288.0,647.8 L1288.2,650.5 L1288.3,653.3 L1288.5,656.3 L1288.7,659.5 L1288.8,663.0 L1288.9,666.7 L1289.1,670.7 L1289.2,674.9 L1289.3,679.3 L1289.5,683.8 L1289.6,688.5 L1289.7,693.2 L1289.8,698.1 L1289.9,702.9 L1290.1,707.8 L1290.2,712.6 L1290.3,717.4 L1290.5,722.1 L1290.6,726.7 L1290.7,731.2 L1290.9,735.5 L1291.1,739.7 L1291.2,743.7 L1291.4,747.8 L1291.6,751.7 L1291.8,755.6 L1292.0,759.5 L1292.2,763.3 L1292.5,767.1 L1292.7,770.9 L1292.9,774.7 L1293.1,778.4 L1293.3,782.2 L1293.5,786.0 L1293.7,789.8 L1293.8,793.6 L1294.0,797.5 L1294.1,801.2 L1294.3,804.5 L1294.4,807.5 L1294.5,810.3 L1294.6,813.0 L1294.7,815.6 L1294.8,818.3 L1294.9,821.2 L1295.0,824.3 L1295.1,827.7 L1295.2,831.6 L1295.3,835.9 L1295.4,840.8 L1295.6,846.4 L1295.8,852.8 L1296.0,860.0 L1296.2,868.1 L1296.5,877.0 L1296.8,886.6 L1297.1,896.9 L1297.5,907.8 L1297.8,919.2 L1298.2,930.9 L1298.5,943.1 L1298.9,955.4 L1299.3,968.0 L1299.6,980.6 L1300.0,993.3 L1300.3,1005.9 L1300.7,1018.4 L1301.0,1030.7 L1301.3,1042.7 L1301.6,1054.9 L1301.9,1067.8 L1302.2,1081.3 L1302.5,1095.2 L1302.8,1109.4 L1303.1,1123.6 L1303.4,1137.8 L1303.7,1151.8 L1304.0,1165.4 L1304.2,1178.5 L1304.5,1191.0 L1304.7,1202.6 L1304.9,1213.3 L1305.1,1222.8 L1305.3,1231.1 L1305.4,1238.0" fill="none" stroke="#fff" stroke-width="1.8" stroke-linecap="round" stroke-dasharray="0.1 13.4" stroke-dashoffset="-6"/>
<path d="M1291.0,526.0 L1291.1,526.8 L1291.2,527.6 L1291.3,528.7 L1291.4,529.8 L1291.5,531.0 L1291.7,532.3 L1291.8,533.7 L1291.9,535.1 L1292.1,536.6 L1292.3,538.2 L1292.4,539.8 L1292.6,541.5 L1292.8,543.1 L1293.0,544.8 L1293.1,546.5 L1293.3,548.2 L1293.5,549.9 L1293.7,551.7 L1293.8,553.5 L1294.0,555.4 L1294.2,557.3 L1294.4,559.3 L1294.6,561.3 L1294.9,563.3 L1295.1,565.3 L1295.3,567.4 L1295.5,569.5 L1295.7,571.6 L1295.9,573.7 L1296.1,575.8 L1296.3,577.9 L1296.5,580.0 L1296.7,582.1 L1296.9,584.3 L1297.1,586.5 L1297.3,588.8 L1297.5,591.0 L1297.7,593.3 L1297.9,595.6 L1298.1,597.9 L1298.3,600.2 L1298.5,602.5 L1298.7,604.7 L1298.9,606.9 L1299.0,609.0 L1299.2,611.1 L1299.4,613.1 L1299.5,615.0 L1299.6,616.8 L1299.7,618.4 L1299.8,619.9 L1299.9,621.2 L1300.0,622.5 L1300.1,623.8 L1300.1,625.0 L1300.2,626.2 L1300.2,627.5 L1300.3,628.9 L1300.4,630.3 L1300.5,631.9 L1300.6,633.6 L1300.7,635.5 L1300.8,637.6 L1301.0,640.0 L1301.2,642.6 L1301.4,645.5 L1301.6,648.7 L1301.9,652.0 L1302.1,655.4 L1302.4,659.0 L1302.7,662.7 L1303.0,666.5 L1303.3,670.3 L1303.5,674.1 L1303.8,677.8 L1304.1,681.5 L1304.4,685.1 L1304.6,688.6 L1304.9,691.9 L1305.1,695.0 L1305.3,698.0 L1305.5,700.8 L1305.7,703.6 L1305.9,706.3 L1306.1,708.9 L1306.2,711.5 L1306.4,714.1 L1306.6,716.6 L1306.7,719.0 L1306.9,721.5 L1307.1,723.9 L1307.2,726.4 L1307.4,728.8 L1307.6,731.3 L1307.7,733.8 L1307.9,736.4 L1308.1,739.0 L1308.3,741.6 L1308.4,744.1 L1308.6,746.7 L1308.8,749.3 L1309.0,751.9 L1309.2,754.5 L1309.4,757.1 L1309.5,759.6 L1309.7,762.2 L1309.9,764.8 L1310.1,767.4 L1310.2,770.0 L1310.4,772.5 L1310.5,775.1 L1310.7,777.7 L1310.8,780.3 L1311.0,782.9 L1311.1,785.6 L1311.3,788.3 L1311.4,791.0 L1311.5,793.6 L1311.6,796.3 L1311.8,799.0 L1311.9,801.6 L1312.0,804.3 L1312.1,806.9 L1312.2,809.4 L1312.3,811.9 L1312.5,814.3 L1312.6,816.7 L1312.7,819.0 L1312.8,820.9 L1312.9,822.3 L1312.9,823.1 L1313.0,823.7 L1313.0,824.0 L1313.1,824.3 L1313.1,824.6 L1313.2,825.0 L1313.2,825.8 L1313.3,827.0 L1313.4,828.7 L1313.6,831.1 L1313.7,834.3 L1313.9,838.5 L1314.2,843.6 L1314.5,850.0 L1314.9,857.6 L1315.3,866.3 L1315.7,876.1 L1316.3,886.7 L1316.8,898.2 L1317.4,910.3 L1318.0,923.0 L1318.6,936.1 L1319.2,949.5 L1319.8,963.1 L1320.5,976.9 L1321.1,990.6 L1321.7,1004.1 L1322.2,1017.4 L1322.8,1030.3 L1323.3,1042.7 L1323.8,1055.2 L1324.3,1068.3 L1324.8,1081.9 L1325.3,1095.9 L1325.8,1110.1 L1326.3,1124.3 L1326.8,1138.5 L1327.3,1152.4 L1327.8,1165.9 L1328.2,1179.0 L1328.6,1191.3 L1329.0,1202.8 L1329.4,1213.4 L1329.7,1222.9 L1330.0,1231.2 L1330.2,1238.0" fill="none" stroke="#fff" stroke-width="1.8" stroke-linecap="round" stroke-dasharray="0.1 8.6" stroke-dashoffset="-4"/>
<path d="M528.7,1238.0 L528.8,1234.4 L528.9,1230.0 L529.0,1225.0 L529.2,1219.4 L529.4,1213.2 L529.5,1206.7 L529.7,1199.8 L529.9,1192.6 L530.1,1185.2 L530.3,1177.7 L530.5,1170.2 L530.7,1162.7 L530.9,1155.3 L531.0,1148.1 L531.2,1141.1 L531.3,1134.5 L531.4,1128.2 L531.5,1122.0 L531.6,1116.0 L531.7,1110.1 L531.8,1104.3 L531.8,1098.4 L531.9,1092.6 L532.0,1086.7 L532.0,1080.7 L532.1,1074.5 L532.2,1068.2 L532.2,1061.7 L532.3,1054.9 L532.4,1047.8 L532.4,1040.5 L532.5,1032.7 L532.6,1024.6 L532.7,1016.2 L532.7,1007.6 L532.8,998.7 L532.9,989.7 L533.0,980.4 L533.1,970.9 L533.1,961.2 L533.2,951.4 L533.3,941.5 L533.4,931.4 L533.5,921.3 L533.6,911.0 L533.6,900.7 L533.7,890.4 L533.8,880.0 L533.9,869.7 L534.0,859.5 L534.0,849.5 L534.1,839.5 L534.2,829.4 L534.2,819.2 L534.3,809.0 L534.4,798.5 L534.5,787.7 L534.5,776.6 L534.6,765.1 L534.7,753.2 L534.8,740.8 L534.8,727.9 L534.9,714.3 L535.0,700.0 L535.1,684.4 L535.2,667.2 L535.3,648.6 L535.4,628.8 L535.5,608.3 L535.6,587.3 L535.7,566.0 L535.8,544.8 L535.9,523.9 L536.0,503.7 L536.1,484.4 L536.1,466.3 L536.2,449.7 L536.3,435.0 L536.4,422.3 L536.4,412.0" fill="none" stroke="#fff" stroke-width="1.8" stroke-linecap="round" stroke-dasharray="0.1 34" stroke-dashoffset="-20"/>
<path d="M409.1,1210.9 L409.3,1208.2 L409.5,1205.0 L409.8,1201.3 L410.1,1197.2 L410.4,1192.7 L410.8,1187.8 L411.1,1182.8 L411.5,1177.5 L411.9,1172.0 L412.3,1166.5 L412.6,1160.9 L413.0,1155.4 L413.3,1149.9 L413.7,1144.6 L413.9,1139.4 L414.2,1134.5 L414.4,1129.7 L414.6,1125.0 L414.8,1120.2 L415.0,1115.4 L415.2,1110.7 L415.3,1105.9 L415.5,1101.1 L415.6,1096.4 L415.7,1091.6 L415.9,1086.8 L416.0,1082.0 L416.1,1077.3 L416.3,1072.5 L416.4,1067.7 L416.5,1063.0 L416.7,1058.2 L416.9,1053.5 L417.0,1048.8 L417.2,1044.2 L417.3,1039.7 L417.5,1035.2 L417.7,1030.7 L417.8,1026.1 L418.0,1021.6 L418.2,1017.0 L418.3,1012.3 L418.5,1007.6 L418.7,1002.7 L418.8,997.7 L419.0,992.6 L419.1,987.3 L419.3,981.8 L419.5,976.2 L419.6,970.4 L419.8,964.5 L419.9,958.6 L420.1,952.5 L420.2,946.3 L420.4,940.0 L420.5,933.6 L420.7,927.2 L420.9,920.6 L421.0,914.0 L421.2,907.3 L421.3,900.6 L421.5,893.8 L421.6,886.9 L421.8,880.0 L422.0,873.0 L422.1,865.9 L422.3,858.6 L422.5,851.3 L422.7,843.8 L422.8,836.3 L423.0,828.8 L423.2,821.1 L423.4,813.5 L423.5,805.8 L423.7,798.1 L423.9,790.4 L424.0,782.8 L424.2,775.1 L424.4,767.5 L424.5,760.0 L424.6,752.4 L424.8,744.7 L424.9,736.9 L425.1,729.1 L425.2,721.2 L425.3,713.2 L425.5,705.3 L425.6,697.5 L425.7,689.7 L425.8,682.1 L426.0,674.5 L426.1,667.2 L426.2,660.0 L426.3,653.1 L426.4,646.4 L426.5,640.0 L426.6,633.9 L426.7,628.1 L426.8,622.5 L426.9,617.1 L427.0,611.9 L427.1,606.9 L427.1,602.0 L427.2,597.2 L427.3,592.5 L427.4,587.9 L427.5,583.3 L427.5,578.7 L427.6,574.1 L427.7,569.5 L427.7,564.8 L427.8,560.0 L427.9,555.1 L427.9,550.2 L428.0,545.2 L428.0,540.2 L428.1,535.2 L428.1,530.2 L428.2,525.2 L428.2,520.3 L428.3,515.5 L428.3,510.7 L428.4,506.1 L428.4,501.5 L428.5,497.1 L428.5,492.9 L428.6,488.9 L428.6,485.0 L428.6,481.3 L428.7,477.8 L428.7,474.4 L428.8,471.2 L428.8,468.1 L428.9,465.1 L428.9,462.3 L428.9,459.5 L429.0,456.8 L429.0,454.2 L429.0,451.7 L429.1,449.3 L429.1,446.9 L429.1,444.6 L429.2,442.3 L429.2,440.0 L429.2,437.8 L429.3,435.6 L429.3,433.4 L429.3,431.4 L429.3,429.3 L429.3,427.4 L429.4,425.5 L429.4,423.7 L429.4,422.0 L429.4,420.4 L429.4,418.8 L429.5,417.4 L429.5,416.1 L429.5,415.0 L429.5,413.9 L429.5,413.0" fill="none" stroke="#fff" stroke-width="1.8" stroke-linecap="round" stroke-dasharray="0.1 17" stroke-dashoffset="-8"/>
</g>
<g id="axes" fill="#000">
<rect x="278" y="73" width="6.6" height="1160"/>
<rect x="259" y="73.1" width="20" height="6.8"/>
<rect x="259" y="265.3" width="20" height="6.8"/>
<rect x="259" y="457.5" width="20" height="6.8"/>
<rect x="259" y="649.6" width="20" height="6.8"/>
<rect x="259" y="841.8" width="20" height="6.8"/>
<rect x="259" y="1034.0" width="20" height="6.8"/>
<rect x="259" y="1226.2" width="20" height="6.8"/>
<rect x="269.8" y="169.2" width="9" height="6.8"/>
<rect x="269.8" y="361.4" width="9" height="6.8"/>
<rect x="269.8" y="553.6" width="9" height="6.8"/>
<rect x="269.8" y="745.7" width="9" height="6.8"/>
<rect x="269.8" y="937.9" width="9" height="6.8"/>
<rect x="269.8" y="1130.1" width="9" height="6.8"/>
<rect x="278" y="1238.4" width="1430.5" height="6.6"/>
<rect x="277.7" y="1240" width="7.2" height="22.6"/>
<rect x="515.0" y="1240" width="7.2" height="22.6"/>
<rect x="752.2" y="1240" width="7.2" height="22.6"/>
<rect x="989.5" y="1240" width="7.2" height="22.6"/>
<rect x="1226.8" y="1240" width="7.2" height="22.6"/>
<rect x="1464.1" y="1240" width="7.2" height="22.6"/>
<rect x="1701.3" y="1240" width="7.2" height="22.6"/>
<rect x="396.3" y="1240" width="7.2" height="11.4"/>
<rect x="633.6" y="1240" width="7.2" height="11.4"/>
<rect x="870.9" y="1240" width="7.2" height="11.4"/>
<rect x="1108.1" y="1240" width="7.2" height="11.4"/>
<rect x="1345.4" y="1240" width="7.2" height="11.4"/>
<rect x="1582.7" y="1240" width="7.2" height="11.4"/>
<rect x="294" y="69.2" width="1430.8" height="7.9"/>
<rect x="294.0" y="70" width="8" height="24.7"/>
<rect x="531.0" y="70" width="8" height="24.7"/>
<rect x="768.0" y="70" width="8" height="24.7"/>
<rect x="1005.0" y="70" width="8" height="24.7"/>
<rect x="1242.0" y="70" width="8" height="24.7"/>
<rect x="1479.0" y="70" width="8" height="24.7"/>
<rect x="1716.0" y="70" width="8" height="24.7"/>
<rect x="412.5" y="70" width="8" height="13.2"/>
<rect x="649.5" y="70" width="8" height="13.2"/>
<rect x="886.5" y="70" width="8" height="13.2"/>
<rect x="1123.5" y="70" width="8" height="13.2"/>
<rect x="1360.5" y="70" width="8" height="13.2"/>
<rect x="1597.5" y="70" width="8" height="13.2"/>
<rect x="1717.1" y="69.2" width="7" height="1175.2"/>
<rect x="1720" y="84.0" width="22.1" height="7.2"/>
<rect x="1720" y="314.6" width="22.1" height="7.2"/>
<rect x="1720" y="545.2" width="22.1" height="7.2"/>
<rect x="1720" y="775.9" width="22.1" height="7.2"/>
<rect x="1720" y="1006.5" width="22.1" height="7.2"/>
<rect x="1720" y="1237.1" width="22.1" height="7.2"/>
<rect x="1720" y="199.3" width="12" height="7.2"/>
<rect x="1720" y="429.9" width="12" height="7.2"/>
<rect x="1720" y="660.6" width="12" height="7.2"/>
<rect x="1720" y="891.2" width="12" height="7.2"/>
<rect x="1720" y="1121.8" width="12" height="7.2"/>
<rect x="1708.5" y="1239.3" width="9" height="1.6" fill="#ff0000"/>
</g>
<g id="legend">
<rect x="330.5" y="106.2" width="860" height="260" fill="none" stroke="#000" stroke-width="8.3"/>
<line x1="339.9" y1="153.5" x2="490" y2="153.5" stroke="#ff0000" stroke-width="6.7" stroke-linecap="round"/>
<line x1="340.5" y1="237.2" x2="489.4" y2="237.2" stroke="#0000ff" stroke-width="8" stroke-linecap="round" stroke-dasharray="22.8 24.1 2.9 23.6 2.8 24.4"/>
<line x1="767.7" y1="205.6" x2="918.6" y2="205.6" stroke="#000" stroke-width="7.2" stroke-linecap="round" stroke-dasharray="27.7 39.7"/>
<line x1="347.3" y1="311.5" x2="503.8" y2="311.5" stroke="#00ff00" stroke-width="7.2" stroke-linecap="round"/>
<circle cx="1179.5" cy="222" r="0.9" fill="#000"/><circle cx="1180.5" cy="258.5" r="0.9" fill="#000"/>
</g>
<g font-family="Liberation Serif, Times New Roman, serif" fill="#000">
<text x="243" y="97.6" font-size="72" text-anchor="end">300</text>
<text x="243" y="289.9" font-size="72" text-anchor="end">250</text>
<text x="243" y="482.2" font-size="72" text-anchor="end">200</text>
<text x="243" y="674.5" font-size="72" text-anchor="end">150</text>
<text x="243" y="866.8" font-size="72" text-anchor="end">100</text>
<text x="243" y="1059.1" font-size="72" text-anchor="end">50</text>
<text x="243" y="1251.4" font-size="72" text-anchor="end">0</text>
<text x="1757" y="108.4" font-size="76">2.5</text>
<text x="1757" y="339.0" font-size="76">2.0</text>
<text x="1757" y="569.6" font-size="76">1.5</text>
<text x="1757" y="800.3" font-size="76">1.0</text>
<text x="1757" y="1030.9" font-size="76">0.5</text>
<text x="1757" y="1261.5" font-size="76">0.0</text>
<text x="281.3" y="1328.9" font-size="65.6" text-anchor="middle">0</text>
<text x="518.6" y="1328.9" font-size="65.6" text-anchor="middle">60</text>
<text x="755.8" y="1328.9" font-size="65.6" text-anchor="middle">120</text>
<text x="993.1" y="1328.9" font-size="65.6" text-anchor="middle">180</text>
<text x="1230.4" y="1328.9" font-size="65.6" text-anchor="middle">240</text>
<text x="1467.7" y="1328.9" font-size="65.6" text-anchor="middle">300</text>
<text x="1704.9" y="1328.9" font-size="65.6" text-anchor="middle">360</text>
<text x="682.5" y="1417.2" font-size="70.2">Crank rotation angle(°)</text>
<text transform="translate(97.6,847.4) rotate(-90)" font-size="69.5">Pressure(kPa)</text>
<text transform="translate(1914.2,960.2) rotate(-90)" font-size="69.5">Displacement(mm)</text>
<text x="515.6" y="176.9" font-size="67.3">38KN/m</text>
<text x="515.6" y="260.4" font-size="67.3">30KN/m</text>
<text x="939.7" y="226" font-size="67.3">15KN/m</text>
<text x="523.1" y="337.1" font-size="74.5">Valve displacement</text>
</g>
</svg></body></html>
